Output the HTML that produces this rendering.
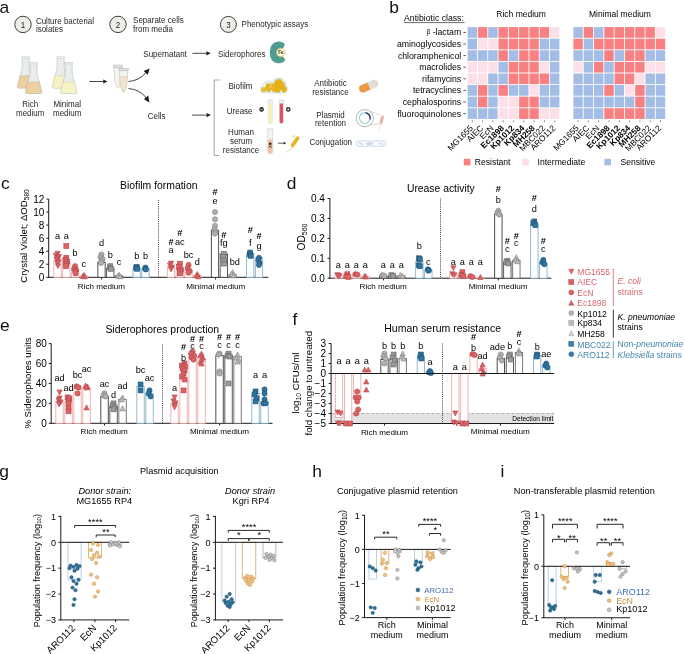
<!DOCTYPE html>
<html><head><meta charset="utf-8"><style>
html,body{margin:0;padding:0;background:#fff;}
svg{display:block;font-family:"Liberation Sans", sans-serif;will-change:transform;}
</style></head><body>
<svg width="685" height="654" viewBox="0 0 685 654">
<rect width="685" height="654" fill="#fff"/>
<text x="-0.50" y="12.70" font-size="17.4" fill="#111">a</text>
<text x="389.20" y="12.50" font-size="17.4" fill="#111">b</text>
<text x="1.00" y="189.40" font-size="17.4" fill="#111">c</text>
<text x="286.80" y="189.10" font-size="17.4" fill="#111">d</text>
<text x="0.10" y="330.50" font-size="17.4" fill="#111">e</text>
<text x="292.50" y="324.70" font-size="17.4" fill="#111">f</text>
<text x="-0.70" y="476.70" font-size="17.4" fill="#111">g</text>
<text x="312.30" y="476.80" font-size="17.4" fill="#111">h</text>
<text x="500.40" y="476.90" font-size="17.4" fill="#111">i</text>
<rect x="467.60" y="27.10" width="9.40" height="10.69" fill="#a4bde6" stroke="none" stroke-width="1"/>
<rect x="477.90" y="27.10" width="9.40" height="10.69" fill="#f98080" stroke="none" stroke-width="1"/>
<rect x="488.20" y="27.10" width="9.40" height="10.69" fill="#a4bde6" stroke="none" stroke-width="1"/>
<rect x="498.50" y="27.10" width="9.40" height="10.69" fill="#f98080" stroke="none" stroke-width="1"/>
<rect x="508.80" y="27.10" width="9.40" height="10.69" fill="#f98080" stroke="none" stroke-width="1"/>
<rect x="519.10" y="27.10" width="9.40" height="10.69" fill="#f98080" stroke="none" stroke-width="1"/>
<rect x="529.40" y="27.10" width="9.40" height="10.69" fill="#f98080" stroke="none" stroke-width="1"/>
<rect x="539.70" y="27.10" width="9.40" height="10.69" fill="#f98080" stroke="none" stroke-width="1"/>
<rect x="550.00" y="27.10" width="9.40" height="10.69" fill="#fde0e7" stroke="none" stroke-width="1"/>
<rect x="467.60" y="38.69" width="9.40" height="10.69" fill="#a4bde6" stroke="none" stroke-width="1"/>
<rect x="477.90" y="38.69" width="9.40" height="10.69" fill="#fde0e7" stroke="none" stroke-width="1"/>
<rect x="488.20" y="38.69" width="9.40" height="10.69" fill="#fde0e7" stroke="none" stroke-width="1"/>
<rect x="498.50" y="38.69" width="9.40" height="10.69" fill="#f98080" stroke="none" stroke-width="1"/>
<rect x="508.80" y="38.69" width="9.40" height="10.69" fill="#f98080" stroke="none" stroke-width="1"/>
<rect x="519.10" y="38.69" width="9.40" height="10.69" fill="#f98080" stroke="none" stroke-width="1"/>
<rect x="529.40" y="38.69" width="9.40" height="10.69" fill="#f98080" stroke="none" stroke-width="1"/>
<rect x="539.70" y="38.69" width="9.40" height="10.69" fill="#a4bde6" stroke="none" stroke-width="1"/>
<rect x="550.00" y="38.69" width="9.40" height="10.69" fill="#a4bde6" stroke="none" stroke-width="1"/>
<rect x="467.60" y="50.28" width="9.40" height="10.69" fill="#a4bde6" stroke="none" stroke-width="1"/>
<rect x="477.90" y="50.28" width="9.40" height="10.69" fill="#a4bde6" stroke="none" stroke-width="1"/>
<rect x="488.20" y="50.28" width="9.40" height="10.69" fill="#a4bde6" stroke="none" stroke-width="1"/>
<rect x="498.50" y="50.28" width="9.40" height="10.69" fill="#f98080" stroke="none" stroke-width="1"/>
<rect x="508.80" y="50.28" width="9.40" height="10.69" fill="#a4bde6" stroke="none" stroke-width="1"/>
<rect x="519.10" y="50.28" width="9.40" height="10.69" fill="#f98080" stroke="none" stroke-width="1"/>
<rect x="529.40" y="50.28" width="9.40" height="10.69" fill="#f98080" stroke="none" stroke-width="1"/>
<rect x="539.70" y="50.28" width="9.40" height="10.69" fill="#a4bde6" stroke="none" stroke-width="1"/>
<rect x="550.00" y="50.28" width="9.40" height="10.69" fill="#a4bde6" stroke="none" stroke-width="1"/>
<rect x="467.60" y="61.87" width="9.40" height="10.69" fill="#fde0e7" stroke="none" stroke-width="1"/>
<rect x="477.90" y="61.87" width="9.40" height="10.69" fill="#fde0e7" stroke="none" stroke-width="1"/>
<rect x="488.20" y="61.87" width="9.40" height="10.69" fill="#fde0e7" stroke="none" stroke-width="1"/>
<rect x="498.50" y="61.87" width="9.40" height="10.69" fill="#a4bde6" stroke="none" stroke-width="1"/>
<rect x="508.80" y="61.87" width="9.40" height="10.69" fill="#f98080" stroke="none" stroke-width="1"/>
<rect x="519.10" y="61.87" width="9.40" height="10.69" fill="#f98080" stroke="none" stroke-width="1"/>
<rect x="529.40" y="61.87" width="9.40" height="10.69" fill="#f98080" stroke="none" stroke-width="1"/>
<rect x="539.70" y="61.87" width="9.40" height="10.69" fill="#fde0e7" stroke="none" stroke-width="1"/>
<rect x="550.00" y="61.87" width="9.40" height="10.69" fill="#a4bde6" stroke="none" stroke-width="1"/>
<rect x="467.60" y="73.46" width="9.40" height="10.69" fill="#fde0e7" stroke="none" stroke-width="1"/>
<rect x="477.90" y="73.46" width="9.40" height="10.69" fill="#fde0e7" stroke="none" stroke-width="1"/>
<rect x="488.20" y="73.46" width="9.40" height="10.69" fill="#a4bde6" stroke="none" stroke-width="1"/>
<rect x="498.50" y="73.46" width="9.40" height="10.69" fill="#a4bde6" stroke="none" stroke-width="1"/>
<rect x="508.80" y="73.46" width="9.40" height="10.69" fill="#f98080" stroke="none" stroke-width="1"/>
<rect x="519.10" y="73.46" width="9.40" height="10.69" fill="#f98080" stroke="none" stroke-width="1"/>
<rect x="529.40" y="73.46" width="9.40" height="10.69" fill="#f98080" stroke="none" stroke-width="1"/>
<rect x="539.70" y="73.46" width="9.40" height="10.69" fill="#f98080" stroke="none" stroke-width="1"/>
<rect x="550.00" y="73.46" width="9.40" height="10.69" fill="#a4bde6" stroke="none" stroke-width="1"/>
<rect x="467.60" y="85.05" width="9.40" height="10.69" fill="#a4bde6" stroke="none" stroke-width="1"/>
<rect x="477.90" y="85.05" width="9.40" height="10.69" fill="#f98080" stroke="none" stroke-width="1"/>
<rect x="488.20" y="85.05" width="9.40" height="10.69" fill="#a4bde6" stroke="none" stroke-width="1"/>
<rect x="498.50" y="85.05" width="9.40" height="10.69" fill="#f98080" stroke="none" stroke-width="1"/>
<rect x="508.80" y="85.05" width="9.40" height="10.69" fill="#a4bde6" stroke="none" stroke-width="1"/>
<rect x="519.10" y="85.05" width="9.40" height="10.69" fill="#a4bde6" stroke="none" stroke-width="1"/>
<rect x="529.40" y="85.05" width="9.40" height="10.69" fill="#fde0e7" stroke="none" stroke-width="1"/>
<rect x="539.70" y="85.05" width="9.40" height="10.69" fill="#a4bde6" stroke="none" stroke-width="1"/>
<rect x="550.00" y="85.05" width="9.40" height="10.69" fill="#a4bde6" stroke="none" stroke-width="1"/>
<rect x="467.60" y="96.64" width="9.40" height="10.69" fill="#a4bde6" stroke="none" stroke-width="1"/>
<rect x="477.90" y="96.64" width="9.40" height="10.69" fill="#f98080" stroke="none" stroke-width="1"/>
<rect x="488.20" y="96.64" width="9.40" height="10.69" fill="#a4bde6" stroke="none" stroke-width="1"/>
<rect x="498.50" y="96.64" width="9.40" height="10.69" fill="#fde0e7" stroke="none" stroke-width="1"/>
<rect x="508.80" y="96.64" width="9.40" height="10.69" fill="#fde0e7" stroke="none" stroke-width="1"/>
<rect x="519.10" y="96.64" width="9.40" height="10.69" fill="#f98080" stroke="none" stroke-width="1"/>
<rect x="529.40" y="96.64" width="9.40" height="10.69" fill="#f98080" stroke="none" stroke-width="1"/>
<rect x="539.70" y="96.64" width="9.40" height="10.69" fill="#a4bde6" stroke="none" stroke-width="1"/>
<rect x="550.00" y="96.64" width="9.40" height="10.69" fill="#a4bde6" stroke="none" stroke-width="1"/>
<rect x="467.60" y="108.23" width="9.40" height="10.69" fill="#a4bde6" stroke="none" stroke-width="1"/>
<rect x="477.90" y="108.23" width="9.40" height="10.69" fill="#a4bde6" stroke="none" stroke-width="1"/>
<rect x="488.20" y="108.23" width="9.40" height="10.69" fill="#a4bde6" stroke="none" stroke-width="1"/>
<rect x="498.50" y="108.23" width="9.40" height="10.69" fill="#fde0e7" stroke="none" stroke-width="1"/>
<rect x="508.80" y="108.23" width="9.40" height="10.69" fill="#fde0e7" stroke="none" stroke-width="1"/>
<rect x="519.10" y="108.23" width="9.40" height="10.69" fill="#f98080" stroke="none" stroke-width="1"/>
<rect x="529.40" y="108.23" width="9.40" height="10.69" fill="#f98080" stroke="none" stroke-width="1"/>
<rect x="539.70" y="108.23" width="9.40" height="10.69" fill="#fde0e7" stroke="none" stroke-width="1"/>
<rect x="550.00" y="108.23" width="9.40" height="10.69" fill="#fde0e7" stroke="none" stroke-width="1"/>
<text x="521.10" y="16.50" font-size="8.5" text-anchor="middle">Rich medium</text>
<line x1="472.30" y1="120.30" x2="472.30" y2="122.30" stroke="#444" stroke-width="0.6"/>
<text x="473.60" y="128.60" font-size="8.4" text-anchor="end" transform="rotate(-45 473.60 128.60)">MG1655</text>
<line x1="482.60" y1="120.30" x2="482.60" y2="122.30" stroke="#444" stroke-width="0.6"/>
<text x="483.90" y="128.60" font-size="8.4" text-anchor="end" transform="rotate(-45 483.90 128.60)">AIEC</text>
<line x1="492.90" y1="120.30" x2="492.90" y2="122.30" stroke="#444" stroke-width="0.6"/>
<text x="494.20" y="128.60" font-size="8.4" text-anchor="end" transform="rotate(-45 494.20 128.60)">EcN</text>
<line x1="503.20" y1="120.30" x2="503.20" y2="122.30" stroke="#444" stroke-width="0.6"/>
<text x="504.50" y="128.60" font-size="8.4" text-anchor="end" font-weight="bold" transform="rotate(-45 504.50 128.60)">Ec1898</text>
<line x1="513.50" y1="120.30" x2="513.50" y2="122.30" stroke="#444" stroke-width="0.6"/>
<text x="514.80" y="128.60" font-size="8.4" text-anchor="end" font-weight="bold" transform="rotate(-45 514.80 128.60)">Kp1012</text>
<line x1="523.80" y1="120.30" x2="523.80" y2="122.30" stroke="#444" stroke-width="0.6"/>
<text x="525.10" y="128.60" font-size="8.4" text-anchor="end" font-weight="bold" transform="rotate(-45 525.10 128.60)">Kp834</text>
<line x1="534.10" y1="120.30" x2="534.10" y2="122.30" stroke="#444" stroke-width="0.6"/>
<text x="535.40" y="128.60" font-size="8.4" text-anchor="end" font-weight="bold" transform="rotate(-45 535.40 128.60)">MH258</text>
<line x1="544.40" y1="120.30" x2="544.40" y2="122.30" stroke="#444" stroke-width="0.6"/>
<text x="545.70" y="128.60" font-size="8.4" text-anchor="end" transform="rotate(-45 545.70 128.60)">MBC022</text>
<line x1="554.70" y1="120.30" x2="554.70" y2="122.30" stroke="#444" stroke-width="0.6"/>
<text x="556.00" y="128.60" font-size="8.4" text-anchor="end" transform="rotate(-45 556.00 128.60)">ARO112</text>
<rect x="573.40" y="27.10" width="9.40" height="10.69" fill="#a4bde6" stroke="none" stroke-width="1"/>
<rect x="583.70" y="27.10" width="9.40" height="10.69" fill="#f98080" stroke="none" stroke-width="1"/>
<rect x="594.00" y="27.10" width="9.40" height="10.69" fill="#a4bde6" stroke="none" stroke-width="1"/>
<rect x="604.30" y="27.10" width="9.40" height="10.69" fill="#f98080" stroke="none" stroke-width="1"/>
<rect x="614.60" y="27.10" width="9.40" height="10.69" fill="#f98080" stroke="none" stroke-width="1"/>
<rect x="624.90" y="27.10" width="9.40" height="10.69" fill="#f98080" stroke="none" stroke-width="1"/>
<rect x="635.20" y="27.10" width="9.40" height="10.69" fill="#f98080" stroke="none" stroke-width="1"/>
<rect x="645.50" y="27.10" width="9.40" height="10.69" fill="#f98080" stroke="none" stroke-width="1"/>
<rect x="655.80" y="27.10" width="9.40" height="10.69" fill="#fde0e7" stroke="none" stroke-width="1"/>
<rect x="573.40" y="38.69" width="9.40" height="10.69" fill="#f98080" stroke="none" stroke-width="1"/>
<rect x="583.70" y="38.69" width="9.40" height="10.69" fill="#a4bde6" stroke="none" stroke-width="1"/>
<rect x="594.00" y="38.69" width="9.40" height="10.69" fill="#f98080" stroke="none" stroke-width="1"/>
<rect x="604.30" y="38.69" width="9.40" height="10.69" fill="#f98080" stroke="none" stroke-width="1"/>
<rect x="614.60" y="38.69" width="9.40" height="10.69" fill="#f98080" stroke="none" stroke-width="1"/>
<rect x="624.90" y="38.69" width="9.40" height="10.69" fill="#f98080" stroke="none" stroke-width="1"/>
<rect x="635.20" y="38.69" width="9.40" height="10.69" fill="#f98080" stroke="none" stroke-width="1"/>
<rect x="645.50" y="38.69" width="9.40" height="10.69" fill="#f98080" stroke="none" stroke-width="1"/>
<rect x="655.80" y="38.69" width="9.40" height="10.69" fill="#f98080" stroke="none" stroke-width="1"/>
<rect x="573.40" y="50.28" width="9.40" height="10.69" fill="#a4bde6" stroke="none" stroke-width="1"/>
<rect x="583.70" y="50.28" width="9.40" height="10.69" fill="#a4bde6" stroke="none" stroke-width="1"/>
<rect x="594.00" y="50.28" width="9.40" height="10.69" fill="#a4bde6" stroke="none" stroke-width="1"/>
<rect x="604.30" y="50.28" width="9.40" height="10.69" fill="#f98080" stroke="none" stroke-width="1"/>
<rect x="614.60" y="50.28" width="9.40" height="10.69" fill="#a4bde6" stroke="none" stroke-width="1"/>
<rect x="624.90" y="50.28" width="9.40" height="10.69" fill="#f98080" stroke="none" stroke-width="1"/>
<rect x="635.20" y="50.28" width="9.40" height="10.69" fill="#f98080" stroke="none" stroke-width="1"/>
<rect x="645.50" y="50.28" width="9.40" height="10.69" fill="#a4bde6" stroke="none" stroke-width="1"/>
<rect x="655.80" y="50.28" width="9.40" height="10.69" fill="#a4bde6" stroke="none" stroke-width="1"/>
<rect x="573.40" y="61.87" width="9.40" height="10.69" fill="#fde0e7" stroke="none" stroke-width="1"/>
<rect x="583.70" y="61.87" width="9.40" height="10.69" fill="#a4bde6" stroke="none" stroke-width="1"/>
<rect x="594.00" y="61.87" width="9.40" height="10.69" fill="#f98080" stroke="none" stroke-width="1"/>
<rect x="604.30" y="61.87" width="9.40" height="10.69" fill="#a4bde6" stroke="none" stroke-width="1"/>
<rect x="614.60" y="61.87" width="9.40" height="10.69" fill="#f98080" stroke="none" stroke-width="1"/>
<rect x="624.90" y="61.87" width="9.40" height="10.69" fill="#f98080" stroke="none" stroke-width="1"/>
<rect x="635.20" y="61.87" width="9.40" height="10.69" fill="#f98080" stroke="none" stroke-width="1"/>
<rect x="645.50" y="61.87" width="9.40" height="10.69" fill="#fde0e7" stroke="none" stroke-width="1"/>
<rect x="655.80" y="61.87" width="9.40" height="10.69" fill="#fde0e7" stroke="none" stroke-width="1"/>
<rect x="573.40" y="73.46" width="9.40" height="10.69" fill="#a4bde6" stroke="none" stroke-width="1"/>
<rect x="583.70" y="73.46" width="9.40" height="10.69" fill="#a4bde6" stroke="none" stroke-width="1"/>
<rect x="594.00" y="73.46" width="9.40" height="10.69" fill="#a4bde6" stroke="none" stroke-width="1"/>
<rect x="604.30" y="73.46" width="9.40" height="10.69" fill="#a4bde6" stroke="none" stroke-width="1"/>
<rect x="614.60" y="73.46" width="9.40" height="10.69" fill="#f98080" stroke="none" stroke-width="1"/>
<rect x="624.90" y="73.46" width="9.40" height="10.69" fill="#f98080" stroke="none" stroke-width="1"/>
<rect x="635.20" y="73.46" width="9.40" height="10.69" fill="#fde0e7" stroke="none" stroke-width="1"/>
<rect x="645.50" y="73.46" width="9.40" height="10.69" fill="#a4bde6" stroke="none" stroke-width="1"/>
<rect x="655.80" y="73.46" width="9.40" height="10.69" fill="#a4bde6" stroke="none" stroke-width="1"/>
<rect x="573.40" y="85.05" width="9.40" height="10.69" fill="#a4bde6" stroke="none" stroke-width="1"/>
<rect x="583.70" y="85.05" width="9.40" height="10.69" fill="#a4bde6" stroke="none" stroke-width="1"/>
<rect x="594.00" y="85.05" width="9.40" height="10.69" fill="#a4bde6" stroke="none" stroke-width="1"/>
<rect x="604.30" y="85.05" width="9.40" height="10.69" fill="#f98080" stroke="none" stroke-width="1"/>
<rect x="614.60" y="85.05" width="9.40" height="10.69" fill="#a4bde6" stroke="none" stroke-width="1"/>
<rect x="624.90" y="85.05" width="9.40" height="10.69" fill="#fde0e7" stroke="none" stroke-width="1"/>
<rect x="635.20" y="85.05" width="9.40" height="10.69" fill="#f98080" stroke="none" stroke-width="1"/>
<rect x="645.50" y="85.05" width="9.40" height="10.69" fill="#a4bde6" stroke="none" stroke-width="1"/>
<rect x="655.80" y="85.05" width="9.40" height="10.69" fill="#a4bde6" stroke="none" stroke-width="1"/>
<rect x="573.40" y="96.64" width="9.40" height="10.69" fill="#a4bde6" stroke="none" stroke-width="1"/>
<rect x="583.70" y="96.64" width="9.40" height="10.69" fill="#a4bde6" stroke="none" stroke-width="1"/>
<rect x="594.00" y="96.64" width="9.40" height="10.69" fill="#a4bde6" stroke="none" stroke-width="1"/>
<rect x="604.30" y="96.64" width="9.40" height="10.69" fill="#a4bde6" stroke="none" stroke-width="1"/>
<rect x="614.60" y="96.64" width="9.40" height="10.69" fill="#a4bde6" stroke="none" stroke-width="1"/>
<rect x="624.90" y="96.64" width="9.40" height="10.69" fill="#a4bde6" stroke="none" stroke-width="1"/>
<rect x="635.20" y="96.64" width="9.40" height="10.69" fill="#f98080" stroke="none" stroke-width="1"/>
<rect x="645.50" y="96.64" width="9.40" height="10.69" fill="#a4bde6" stroke="none" stroke-width="1"/>
<rect x="655.80" y="96.64" width="9.40" height="10.69" fill="#a4bde6" stroke="none" stroke-width="1"/>
<rect x="573.40" y="108.23" width="9.40" height="10.69" fill="#a4bde6" stroke="none" stroke-width="1"/>
<rect x="583.70" y="108.23" width="9.40" height="10.69" fill="#a4bde6" stroke="none" stroke-width="1"/>
<rect x="594.00" y="108.23" width="9.40" height="10.69" fill="#a4bde6" stroke="none" stroke-width="1"/>
<rect x="604.30" y="108.23" width="9.40" height="10.69" fill="#f98080" stroke="none" stroke-width="1"/>
<rect x="614.60" y="108.23" width="9.40" height="10.69" fill="#f98080" stroke="none" stroke-width="1"/>
<rect x="624.90" y="108.23" width="9.40" height="10.69" fill="#f98080" stroke="none" stroke-width="1"/>
<rect x="635.20" y="108.23" width="9.40" height="10.69" fill="#f98080" stroke="none" stroke-width="1"/>
<rect x="645.50" y="108.23" width="9.40" height="10.69" fill="#a4bde6" stroke="none" stroke-width="1"/>
<rect x="655.80" y="108.23" width="9.40" height="10.69" fill="#a4bde6" stroke="none" stroke-width="1"/>
<text x="619.90" y="16.50" font-size="8.5" text-anchor="middle">Minimal medium</text>
<line x1="578.10" y1="120.30" x2="578.10" y2="122.30" stroke="#444" stroke-width="0.6"/>
<text x="579.40" y="128.60" font-size="8.4" text-anchor="end" transform="rotate(-45 579.40 128.60)">MG1655</text>
<line x1="588.40" y1="120.30" x2="588.40" y2="122.30" stroke="#444" stroke-width="0.6"/>
<text x="589.70" y="128.60" font-size="8.4" text-anchor="end" transform="rotate(-45 589.70 128.60)">AIEC</text>
<line x1="598.70" y1="120.30" x2="598.70" y2="122.30" stroke="#444" stroke-width="0.6"/>
<text x="600.00" y="128.60" font-size="8.4" text-anchor="end" transform="rotate(-45 600.00 128.60)">EcN</text>
<line x1="609.00" y1="120.30" x2="609.00" y2="122.30" stroke="#444" stroke-width="0.6"/>
<text x="610.30" y="128.60" font-size="8.4" text-anchor="end" font-weight="bold" transform="rotate(-45 610.30 128.60)">Ec1898</text>
<line x1="619.30" y1="120.30" x2="619.30" y2="122.30" stroke="#444" stroke-width="0.6"/>
<text x="620.60" y="128.60" font-size="8.4" text-anchor="end" font-weight="bold" transform="rotate(-45 620.60 128.60)">Kp1012</text>
<line x1="629.60" y1="120.30" x2="629.60" y2="122.30" stroke="#444" stroke-width="0.6"/>
<text x="630.90" y="128.60" font-size="8.4" text-anchor="end" font-weight="bold" transform="rotate(-45 630.90 128.60)">Kp834</text>
<line x1="639.90" y1="120.30" x2="639.90" y2="122.30" stroke="#444" stroke-width="0.6"/>
<text x="641.20" y="128.60" font-size="8.4" text-anchor="end" font-weight="bold" transform="rotate(-45 641.20 128.60)">MH258</text>
<line x1="650.20" y1="120.30" x2="650.20" y2="122.30" stroke="#444" stroke-width="0.6"/>
<text x="651.50" y="128.60" font-size="8.4" text-anchor="end" transform="rotate(-45 651.50 128.60)">MBC022</text>
<line x1="660.50" y1="120.30" x2="660.50" y2="122.30" stroke="#444" stroke-width="0.6"/>
<text x="661.80" y="128.60" font-size="8.4" text-anchor="end" transform="rotate(-45 661.80 128.60)">ARO112</text>
<text x="461.20" y="35.45" font-size="8.7" text-anchor="end"><tspan font-size="6.6" dy="-1.3">&#946;</tspan><tspan dy="1.3"> -lactam</tspan></text>
<line x1="463.40" y1="32.45" x2="465.90" y2="32.45" stroke="#333" stroke-width="0.8"/>
<text x="461.20" y="47.03" font-size="8.7" text-anchor="end">aminoglycosides</text>
<line x1="463.40" y1="44.03" x2="465.90" y2="44.03" stroke="#333" stroke-width="0.8"/>
<text x="461.20" y="58.62" font-size="8.7" text-anchor="end">chloramphenicol</text>
<line x1="463.40" y1="55.62" x2="465.90" y2="55.62" stroke="#333" stroke-width="0.8"/>
<text x="461.20" y="70.22" font-size="8.7" text-anchor="end">macrolides</text>
<line x1="463.40" y1="67.22" x2="465.90" y2="67.22" stroke="#333" stroke-width="0.8"/>
<text x="461.20" y="81.81" font-size="8.7" text-anchor="end">rifamycins</text>
<line x1="463.40" y1="78.81" x2="465.90" y2="78.81" stroke="#333" stroke-width="0.8"/>
<text x="461.20" y="93.40" font-size="8.7" text-anchor="end">tetracyclines</text>
<line x1="463.40" y1="90.40" x2="465.90" y2="90.40" stroke="#333" stroke-width="0.8"/>
<text x="461.20" y="104.98" font-size="8.7" text-anchor="end">cephalosporins</text>
<line x1="463.40" y1="101.98" x2="465.90" y2="101.98" stroke="#333" stroke-width="0.8"/>
<text x="461.20" y="116.57" font-size="8.7" text-anchor="end">fluoroquinolones</text>
<line x1="463.40" y1="113.57" x2="465.90" y2="113.57" stroke="#333" stroke-width="0.8"/>
<text x="404.00" y="21.00" font-size="8.7">Antibiotic class:</text>
<line x1="404.00" y1="22.60" x2="464.60" y2="22.60" stroke="#000" stroke-width="0.6"/>
<rect x="463.80" y="158.80" width="6.60" height="6.60" fill="#f98080" stroke="none" stroke-width="1"/>
<text x="474.70" y="164.60" font-size="8.6">Resistant</text>
<rect x="522.20" y="158.80" width="6.60" height="6.60" fill="#fde0e7" stroke="none" stroke-width="1"/>
<text x="537.50" y="164.60" font-size="8.6">Intermediate</text>
<rect x="604.40" y="158.80" width="6.60" height="6.60" fill="#a4bde6" stroke="none" stroke-width="1"/>
<text x="620.50" y="164.60" font-size="8.6">Sensitive</text>
<text x="158.80" y="189.30" font-size="10.4" text-anchor="middle">Biofilm formation</text>
<line x1="48.70" y1="199.10" x2="48.70" y2="277.30" stroke="#1a1a1a" stroke-width="1.0"/>
<line x1="46.30" y1="277.30" x2="48.70" y2="277.30" stroke="#1a1a1a" stroke-width="1.0"/>
<text x="44.40" y="280.85" font-size="10.0" text-anchor="end">0</text>
<line x1="46.30" y1="264.26" x2="48.70" y2="264.26" stroke="#1a1a1a" stroke-width="1.0"/>
<text x="44.40" y="267.81" font-size="10.0" text-anchor="end">2</text>
<line x1="46.30" y1="251.22" x2="48.70" y2="251.22" stroke="#1a1a1a" stroke-width="1.0"/>
<text x="44.40" y="254.77" font-size="10.0" text-anchor="end">4</text>
<line x1="46.30" y1="238.18" x2="48.70" y2="238.18" stroke="#1a1a1a" stroke-width="1.0"/>
<text x="44.40" y="241.73" font-size="10.0" text-anchor="end">6</text>
<line x1="46.30" y1="225.14" x2="48.70" y2="225.14" stroke="#1a1a1a" stroke-width="1.0"/>
<text x="44.40" y="228.69" font-size="10.0" text-anchor="end">8</text>
<line x1="46.30" y1="212.10" x2="48.70" y2="212.10" stroke="#1a1a1a" stroke-width="1.0"/>
<text x="44.40" y="215.65" font-size="10.0" text-anchor="end">10</text>
<line x1="46.30" y1="199.06" x2="48.70" y2="199.06" stroke="#1a1a1a" stroke-width="1.0"/>
<text x="44.40" y="202.61" font-size="10.0" text-anchor="end">12</text>
<line x1="48.20" y1="277.30" x2="268.30" y2="277.30" stroke="#1a1a1a" stroke-width="1.0"/>
<line x1="101.60" y1="277.30" x2="101.60" y2="279.50" stroke="#1a1a1a" stroke-width="1.0"/>
<line x1="215.60" y1="277.30" x2="215.60" y2="279.50" stroke="#1a1a1a" stroke-width="1.0"/>
<line x1="158.50" y1="200.00" x2="158.50" y2="277.00" stroke="#444" stroke-width="1.0" stroke-dasharray="1,1.1"/>
<text x="101.40" y="288.90" font-size="8.1" text-anchor="middle">Rich medium</text>
<text x="215.80" y="288.90" font-size="8.1" text-anchor="middle">Minimal medium</text>
<text x="27.00" y="236.00" font-size="9.6" text-anchor="middle" transform="rotate(-90 27.00 236.00)">Crystal Violet; &#916;OD<tspan font-size="6.6" dy="2">580</tspan></text>
<rect x="53.85" y="260.35" width="7.30" height="16.95" fill="#fff" stroke="#eeaaaa" stroke-width="0.9"/>
<rect x="62.65" y="262.96" width="7.30" height="14.34" fill="#fff" stroke="#eeaaaa" stroke-width="0.9"/>
<rect x="71.45" y="270.13" width="7.30" height="7.17" fill="#fff" stroke="#eeaaaa" stroke-width="0.9"/>
<rect x="80.25" y="276.00" width="7.30" height="1.30" fill="#fff" stroke="#eeaaaa" stroke-width="0.9"/>
<rect x="97.85" y="262.30" width="7.30" height="15.00" fill="#fff" stroke="#3a3a3a" stroke-width="0.9"/>
<rect x="106.65" y="268.17" width="7.30" height="9.13" fill="#fff" stroke="#4a4a4a" stroke-width="0.9"/>
<rect x="115.45" y="275.67" width="7.30" height="1.63" fill="#fff" stroke="#6a6a6a" stroke-width="0.9"/>
<rect x="133.05" y="268.17" width="7.30" height="9.13" fill="#fff" stroke="#86b2cc" stroke-width="0.9"/>
<rect x="141.85" y="268.82" width="7.30" height="8.48" fill="#fff" stroke="#86b2cc" stroke-width="0.9"/>
<path d="M54.85,251.31L60.15,251.31L57.50,256.35Z" fill="#dc6264" stroke="#ad4245" stroke-width="0.55"/>
<path d="M53.35,253.26L58.65,253.26L56.00,258.30Z" fill="#dc6264" stroke="#ad4245" stroke-width="0.55"/>
<path d="M56.35,254.57L61.65,254.57L59.00,259.61Z" fill="#dc6264" stroke="#ad4245" stroke-width="0.55"/>
<path d="M54.85,255.87L60.15,255.87L57.50,260.91Z" fill="#dc6264" stroke="#ad4245" stroke-width="0.55"/>
<path d="M53.85,257.18L59.15,257.18L56.50,262.22Z" fill="#dc6264" stroke="#ad4245" stroke-width="0.55"/>
<path d="M55.85,259.13L61.15,259.13L58.50,264.17Z" fill="#dc6264" stroke="#ad4245" stroke-width="0.55"/>
<path d="M54.85,261.09L60.15,261.09L57.50,266.13Z" fill="#dc6264" stroke="#ad4245" stroke-width="0.55"/>
<path d="M55.35,263.70L60.65,263.70L58.00,268.74Z" fill="#dc6264" stroke="#ad4245" stroke-width="0.55"/>
<rect x="63.83" y="243.53" width="4.94" height="4.94" fill="#dc6264" stroke="#ad4245" stroke-width="0.55"/>
<rect x="63.83" y="255.27" width="4.94" height="4.94" fill="#dc6264" stroke="#ad4245" stroke-width="0.55"/>
<rect x="62.83" y="257.23" width="4.94" height="4.94" fill="#dc6264" stroke="#ad4245" stroke-width="0.55"/>
<rect x="64.83" y="259.18" width="4.94" height="4.94" fill="#dc6264" stroke="#ad4245" stroke-width="0.55"/>
<rect x="63.83" y="261.79" width="4.94" height="4.94" fill="#dc6264" stroke="#ad4245" stroke-width="0.55"/>
<rect x="63.33" y="263.75" width="4.94" height="4.94" fill="#dc6264" stroke="#ad4245" stroke-width="0.55"/>
<circle cx="75.10" cy="266.22" r="2.60" fill="#dc6264" stroke="#ad4245" stroke-width="0.55"/>
<circle cx="74.10" cy="268.82" r="2.60" fill="#dc6264" stroke="#ad4245" stroke-width="0.55"/>
<circle cx="76.10" cy="270.13" r="2.60" fill="#dc6264" stroke="#ad4245" stroke-width="0.55"/>
<circle cx="75.10" cy="271.43" r="2.60" fill="#dc6264" stroke="#ad4245" stroke-width="0.55"/>
<circle cx="75.60" cy="273.39" r="2.60" fill="#dc6264" stroke="#ad4245" stroke-width="0.55"/>
<path d="M81.25,277.54L86.55,277.54L83.90,272.50Z" fill="#dc6264" stroke="#ad4245" stroke-width="0.55"/>
<path d="M80.25,278.52L85.55,278.52L82.90,273.48Z" fill="#dc6264" stroke="#ad4245" stroke-width="0.55"/>
<path d="M82.25,278.84L87.55,278.84L84.90,273.80Z" fill="#dc6264" stroke="#ad4245" stroke-width="0.55"/>
<circle cx="101.50" cy="254.48" r="2.60" fill="#b0b0b0" stroke="#777777" stroke-width="0.55"/>
<circle cx="100.50" cy="257.09" r="2.60" fill="#b0b0b0" stroke="#777777" stroke-width="0.55"/>
<circle cx="102.50" cy="259.04" r="2.60" fill="#b0b0b0" stroke="#777777" stroke-width="0.55"/>
<circle cx="101.50" cy="261.00" r="2.60" fill="#b0b0b0" stroke="#777777" stroke-width="0.55"/>
<circle cx="101.00" cy="262.96" r="2.60" fill="#b0b0b0" stroke="#777777" stroke-width="0.55"/>
<rect x="107.83" y="263.75" width="4.94" height="4.94" fill="#9a9a9a" stroke="#5e5e5e" stroke-width="0.55"/>
<rect x="107.33" y="265.05" width="4.94" height="4.94" fill="#9a9a9a" stroke="#5e5e5e" stroke-width="0.55"/>
<rect x="108.33" y="266.35" width="4.94" height="4.94" fill="#9a9a9a" stroke="#5e5e5e" stroke-width="0.55"/>
<path d="M116.45,277.21L121.75,277.21L119.10,272.17Z" fill="#bdbdbd" stroke="#777777" stroke-width="0.55"/>
<path d="M115.45,278.19L120.75,278.19L118.10,273.15Z" fill="#bdbdbd" stroke="#777777" stroke-width="0.55"/>
<path d="M117.45,278.84L122.75,278.84L120.10,273.80Z" fill="#bdbdbd" stroke="#777777" stroke-width="0.55"/>
<rect x="134.23" y="264.40" width="4.94" height="4.94" fill="#2f74a0" stroke="#1c4f70" stroke-width="0.55"/>
<rect x="133.73" y="265.70" width="4.94" height="4.94" fill="#2f74a0" stroke="#1c4f70" stroke-width="0.55"/>
<rect x="134.73" y="266.35" width="4.94" height="4.94" fill="#2f74a0" stroke="#1c4f70" stroke-width="0.55"/>
<circle cx="145.50" cy="267.52" r="2.60" fill="#2f74a0" stroke="#1c4f70" stroke-width="0.55"/>
<circle cx="145.00" cy="268.82" r="2.60" fill="#2f74a0" stroke="#1c4f70" stroke-width="0.55"/>
<circle cx="146.00" cy="269.48" r="2.60" fill="#2f74a0" stroke="#1c4f70" stroke-width="0.55"/>
<rect x="167.35" y="266.87" width="7.30" height="10.43" fill="#fff" stroke="#eeaaaa" stroke-width="0.9"/>
<rect x="176.15" y="269.48" width="7.30" height="7.82" fill="#fff" stroke="#eeaaaa" stroke-width="0.9"/>
<rect x="184.95" y="270.13" width="7.30" height="7.17" fill="#fff" stroke="#eeaaaa" stroke-width="0.9"/>
<rect x="193.75" y="275.34" width="7.30" height="1.96" fill="#fff" stroke="#eeaaaa" stroke-width="0.9"/>
<rect x="211.35" y="230.36" width="7.30" height="46.94" fill="#fff" stroke="#3a3a3a" stroke-width="0.9"/>
<rect x="220.15" y="253.83" width="7.30" height="23.47" fill="#fff" stroke="#4a4a4a" stroke-width="0.9"/>
<rect x="228.95" y="274.69" width="7.30" height="2.61" fill="#fff" stroke="#6a6a6a" stroke-width="0.9"/>
<rect x="246.55" y="253.83" width="7.30" height="23.47" fill="#fff" stroke="#86b2cc" stroke-width="0.9"/>
<rect x="255.35" y="257.74" width="7.30" height="19.56" fill="#fff" stroke="#86b2cc" stroke-width="0.9"/>
<path d="M168.35,261.09L173.65,261.09L171.00,266.13Z" fill="#dc6264" stroke="#ad4245" stroke-width="0.55"/>
<path d="M167.35,263.04L172.65,263.04L170.00,268.08Z" fill="#dc6264" stroke="#ad4245" stroke-width="0.55"/>
<path d="M169.35,265.00L174.65,265.00L172.00,270.04Z" fill="#dc6264" stroke="#ad4245" stroke-width="0.55"/>
<path d="M168.35,266.96L173.65,266.96L171.00,272.00Z" fill="#dc6264" stroke="#ad4245" stroke-width="0.55"/>
<rect x="177.33" y="261.14" width="4.94" height="4.94" fill="#dc6264" stroke="#ad4245" stroke-width="0.55"/>
<rect x="176.33" y="264.40" width="4.94" height="4.94" fill="#dc6264" stroke="#ad4245" stroke-width="0.55"/>
<rect x="178.33" y="267.01" width="4.94" height="4.94" fill="#dc6264" stroke="#ad4245" stroke-width="0.55"/>
<rect x="177.33" y="268.96" width="4.94" height="4.94" fill="#dc6264" stroke="#ad4245" stroke-width="0.55"/>
<rect x="177.33" y="270.92" width="4.94" height="4.94" fill="#dc6264" stroke="#ad4245" stroke-width="0.55"/>
<circle cx="188.60" cy="264.91" r="2.60" fill="#dc6264" stroke="#ad4245" stroke-width="0.55"/>
<circle cx="187.60" cy="268.17" r="2.60" fill="#dc6264" stroke="#ad4245" stroke-width="0.55"/>
<circle cx="189.60" cy="270.78" r="2.60" fill="#dc6264" stroke="#ad4245" stroke-width="0.55"/>
<circle cx="188.60" cy="272.74" r="2.60" fill="#dc6264" stroke="#ad4245" stroke-width="0.55"/>
<path d="M194.75,276.56L200.05,276.56L197.40,271.52Z" fill="#dc6264" stroke="#ad4245" stroke-width="0.55"/>
<path d="M193.75,277.86L199.05,277.86L196.40,272.82Z" fill="#dc6264" stroke="#ad4245" stroke-width="0.55"/>
<path d="M195.75,278.84L201.05,278.84L198.40,273.80Z" fill="#dc6264" stroke="#ad4245" stroke-width="0.55"/>
<circle cx="215.00" cy="212.10" r="2.60" fill="#b0b0b0" stroke="#777777" stroke-width="0.55"/>
<circle cx="215.00" cy="219.27" r="2.60" fill="#b0b0b0" stroke="#777777" stroke-width="0.55"/>
<circle cx="215.00" cy="225.79" r="2.60" fill="#b0b0b0" stroke="#777777" stroke-width="0.55"/>
<circle cx="214.50" cy="229.05" r="2.60" fill="#b0b0b0" stroke="#777777" stroke-width="0.55"/>
<circle cx="215.50" cy="231.66" r="2.60" fill="#b0b0b0" stroke="#777777" stroke-width="0.55"/>
<circle cx="215.00" cy="233.62" r="2.60" fill="#b0b0b0" stroke="#777777" stroke-width="0.55"/>
<rect x="221.33" y="251.36" width="4.94" height="4.94" fill="#9a9a9a" stroke="#5e5e5e" stroke-width="0.55"/>
<rect x="220.83" y="254.62" width="4.94" height="4.94" fill="#9a9a9a" stroke="#5e5e5e" stroke-width="0.55"/>
<rect x="221.83" y="257.88" width="4.94" height="4.94" fill="#9a9a9a" stroke="#5e5e5e" stroke-width="0.55"/>
<rect x="221.33" y="261.14" width="4.94" height="4.94" fill="#9a9a9a" stroke="#5e5e5e" stroke-width="0.55"/>
<path d="M229.95,274.60L235.25,274.60L232.60,269.56Z" fill="#bdbdbd" stroke="#777777" stroke-width="0.55"/>
<path d="M228.95,276.56L234.25,276.56L231.60,271.52Z" fill="#bdbdbd" stroke="#777777" stroke-width="0.55"/>
<path d="M230.95,277.86L236.25,277.86L233.60,272.82Z" fill="#bdbdbd" stroke="#777777" stroke-width="0.55"/>
<rect x="247.73" y="250.05" width="4.94" height="4.94" fill="#2f74a0" stroke="#1c4f70" stroke-width="0.55"/>
<rect x="247.23" y="252.01" width="4.94" height="4.94" fill="#2f74a0" stroke="#1c4f70" stroke-width="0.55"/>
<rect x="248.23" y="253.31" width="4.94" height="4.94" fill="#2f74a0" stroke="#1c4f70" stroke-width="0.55"/>
<circle cx="259.00" cy="257.74" r="2.60" fill="#2f74a0" stroke="#1c4f70" stroke-width="0.55"/>
<circle cx="258.50" cy="260.35" r="2.60" fill="#2f74a0" stroke="#1c4f70" stroke-width="0.55"/>
<circle cx="259.50" cy="262.96" r="2.60" fill="#2f74a0" stroke="#1c4f70" stroke-width="0.55"/>
<circle cx="259.00" cy="264.91" r="2.60" fill="#2f74a0" stroke="#1c4f70" stroke-width="0.55"/>
<text x="57.50" y="239.40" font-size="9.2" text-anchor="middle">a</text>
<text x="66.30" y="239.40" font-size="9.2" text-anchor="middle">a</text>
<text x="75.10" y="255.70" font-size="9.2" text-anchor="middle">b</text>
<text x="83.90" y="267.00" font-size="9.2" text-anchor="middle">c</text>
<text x="101.50" y="246.00" font-size="9.2" text-anchor="middle">d</text>
<text x="110.30" y="257.80" font-size="9.2" text-anchor="middle">b</text>
<text x="119.10" y="265.30" font-size="9.2" text-anchor="middle">c</text>
<text x="136.70" y="259.40" font-size="9.2" text-anchor="middle">b</text>
<text x="145.50" y="259.40" font-size="9.2" text-anchor="middle">b</text>
<text x="171.00" y="253.30" font-size="9.2" text-anchor="middle">a</text>
<text x="171.00" y="245.00" font-size="9.2" text-anchor="middle" font-weight="bold">#</text>
<text x="179.80" y="245.00" font-size="9.2" text-anchor="middle">ac</text>
<text x="179.80" y="236.20" font-size="9.2" text-anchor="middle" font-weight="bold">#</text>
<text x="188.60" y="257.90" font-size="9.2" text-anchor="middle">bc</text>
<text x="197.40" y="264.90" font-size="9.2" text-anchor="middle">d</text>
<text x="215.00" y="203.50" font-size="9.2" text-anchor="middle">e</text>
<text x="215.00" y="195.00" font-size="9.2" text-anchor="middle" font-weight="bold">#</text>
<text x="223.80" y="246.20" font-size="9.2" text-anchor="middle">fg</text>
<text x="223.80" y="238.10" font-size="9.2" text-anchor="middle" font-weight="bold">#</text>
<text x="234.80" y="264.90" font-size="9.2" text-anchor="middle">bd</text>
<text x="250.20" y="246.20" font-size="9.2" text-anchor="middle">f</text>
<text x="250.20" y="233.40" font-size="9.2" text-anchor="middle" font-weight="bold">#</text>
<text x="259.00" y="248.60" font-size="9.2" text-anchor="middle">g</text>
<text x="259.00" y="238.50" font-size="9.2" text-anchor="middle" font-weight="bold">#</text>
<text x="440.85" y="191.70" font-size="10.35" text-anchor="middle">Urease activity</text>
<line x1="329.90" y1="198.30" x2="329.90" y2="278.20" stroke="#1a1a1a" stroke-width="1.0"/>
<line x1="327.50" y1="278.20" x2="329.90" y2="278.20" stroke="#1a1a1a" stroke-width="1.0"/>
<text x="324.90" y="281.75" font-size="10.0" text-anchor="end">0.0</text>
<line x1="327.50" y1="258.27" x2="329.90" y2="258.27" stroke="#1a1a1a" stroke-width="1.0"/>
<text x="324.90" y="261.82" font-size="10.0" text-anchor="end">0.1</text>
<line x1="327.50" y1="238.34" x2="329.90" y2="238.34" stroke="#1a1a1a" stroke-width="1.0"/>
<text x="324.90" y="241.89" font-size="10.0" text-anchor="end">0.2</text>
<line x1="327.50" y1="218.41" x2="329.90" y2="218.41" stroke="#1a1a1a" stroke-width="1.0"/>
<text x="324.90" y="221.96" font-size="10.0" text-anchor="end">0.3</text>
<line x1="327.50" y1="198.48" x2="329.90" y2="198.48" stroke="#1a1a1a" stroke-width="1.0"/>
<text x="324.90" y="202.03" font-size="10.0" text-anchor="end">0.4</text>
<line x1="329.40" y1="278.20" x2="551.40" y2="278.20" stroke="#1a1a1a" stroke-width="1.0"/>
<line x1="383.40" y1="278.20" x2="383.40" y2="280.40" stroke="#1a1a1a" stroke-width="1.0"/>
<line x1="498.30" y1="278.20" x2="498.30" y2="280.40" stroke="#1a1a1a" stroke-width="1.0"/>
<line x1="440.50" y1="198.40" x2="440.50" y2="278.00" stroke="#444" stroke-width="1.0" stroke-dasharray="1,1.1"/>
<text x="383.20" y="289.00" font-size="8.1" text-anchor="middle">Rich medium</text>
<text x="498.10" y="289.00" font-size="8.1" text-anchor="middle">Minimal medium</text>
<text x="304.60" y="237.00" font-size="10.2" text-anchor="middle" transform="rotate(-90 304.60 237.00)">OD<tspan font-size="7.0" dy="2">560</tspan></text>
<rect x="334.65" y="275.81" width="7.40" height="2.39" fill="#fff" stroke="#eeaaaa" stroke-width="0.9"/>
<rect x="343.65" y="275.81" width="7.40" height="2.39" fill="#fff" stroke="#eeaaaa" stroke-width="0.9"/>
<rect x="352.65" y="275.21" width="7.40" height="2.99" fill="#fff" stroke="#eeaaaa" stroke-width="0.9"/>
<rect x="361.65" y="276.21" width="7.40" height="1.99" fill="#fff" stroke="#eeaaaa" stroke-width="0.9"/>
<rect x="379.65" y="275.81" width="7.40" height="2.39" fill="#fff" stroke="#3a3a3a" stroke-width="0.9"/>
<rect x="388.65" y="275.81" width="7.40" height="2.39" fill="#fff" stroke="#4a4a4a" stroke-width="0.9"/>
<rect x="397.65" y="275.81" width="7.40" height="2.39" fill="#fff" stroke="#6a6a6a" stroke-width="0.9"/>
<rect x="415.65" y="261.26" width="7.40" height="16.94" fill="#fff" stroke="#86b2cc" stroke-width="0.9"/>
<rect x="424.65" y="270.23" width="7.40" height="7.97" fill="#fff" stroke="#86b2cc" stroke-width="0.9"/>
<path d="M334.70,272.69L340.00,272.69L337.35,277.73Z" fill="#dc6264" stroke="#ad4245" stroke-width="0.55"/>
<path d="M336.70,273.69L342.00,273.69L339.35,278.73Z" fill="#dc6264" stroke="#ad4245" stroke-width="0.55"/>
<path d="M335.70,273.29L341.00,273.29L338.35,278.33Z" fill="#dc6264" stroke="#ad4245" stroke-width="0.55"/>
<rect x="344.88" y="271.74" width="4.94" height="4.94" fill="#dc6264" stroke="#ad4245" stroke-width="0.55"/>
<rect x="343.88" y="273.74" width="4.94" height="4.94" fill="#dc6264" stroke="#ad4245" stroke-width="0.55"/>
<rect x="345.88" y="274.53" width="4.94" height="4.94" fill="#dc6264" stroke="#ad4245" stroke-width="0.55"/>
<circle cx="355.35" cy="274.21" r="2.60" fill="#dc6264" stroke="#ad4245" stroke-width="0.55"/>
<circle cx="357.35" cy="274.61" r="2.60" fill="#dc6264" stroke="#ad4245" stroke-width="0.55"/>
<path d="M362.20,278.33L367.50,278.33L364.85,273.29Z" fill="#dc6264" stroke="#ad4245" stroke-width="0.55"/>
<path d="M363.20,279.12L368.50,279.12L365.85,274.09Z" fill="#dc6264" stroke="#ad4245" stroke-width="0.55"/>
<circle cx="382.35" cy="275.21" r="2.60" fill="#b0b0b0" stroke="#777777" stroke-width="0.55"/>
<circle cx="384.35" cy="275.81" r="2.60" fill="#b0b0b0" stroke="#777777" stroke-width="0.55"/>
<rect x="388.88" y="272.74" width="4.94" height="4.94" fill="#9a9a9a" stroke="#5e5e5e" stroke-width="0.55"/>
<rect x="390.88" y="273.34" width="4.94" height="4.94" fill="#9a9a9a" stroke="#5e5e5e" stroke-width="0.55"/>
<path d="M397.70,277.53L403.00,277.53L400.35,272.49Z" fill="#bdbdbd" stroke="#777777" stroke-width="0.55"/>
<path d="M399.70,278.33L405.00,278.33L402.35,273.29Z" fill="#bdbdbd" stroke="#777777" stroke-width="0.55"/>
<rect x="416.38" y="255.80" width="4.94" height="4.94" fill="#2f74a0" stroke="#1c4f70" stroke-width="0.55"/>
<rect x="417.38" y="256.80" width="4.94" height="4.94" fill="#2f74a0" stroke="#1c4f70" stroke-width="0.55"/>
<rect x="416.38" y="262.78" width="4.94" height="4.94" fill="#2f74a0" stroke="#1c4f70" stroke-width="0.55"/>
<rect x="417.38" y="263.77" width="4.94" height="4.94" fill="#2f74a0" stroke="#1c4f70" stroke-width="0.55"/>
<circle cx="427.85" cy="269.23" r="2.60" fill="#2f74a0" stroke="#1c4f70" stroke-width="0.55"/>
<circle cx="428.85" cy="270.23" r="2.60" fill="#2f74a0" stroke="#1c4f70" stroke-width="0.55"/>
<circle cx="428.35" cy="270.63" r="2.60" fill="#2f74a0" stroke="#1c4f70" stroke-width="0.55"/>
<rect x="449.65" y="274.21" width="7.40" height="3.99" fill="#fff" stroke="#eeaaaa" stroke-width="0.9"/>
<rect x="458.65" y="275.21" width="7.40" height="2.99" fill="#fff" stroke="#eeaaaa" stroke-width="0.9"/>
<rect x="467.65" y="276.61" width="7.40" height="1.59" fill="#fff" stroke="#eeaaaa" stroke-width="0.9"/>
<rect x="476.65" y="277.20" width="7.40" height="1.00" fill="#fff" stroke="#eeaaaa" stroke-width="0.9"/>
<rect x="494.65" y="214.42" width="7.40" height="63.78" fill="#fff" stroke="#3a3a3a" stroke-width="0.9"/>
<rect x="503.65" y="262.26" width="7.40" height="15.94" fill="#fff" stroke="#4a4a4a" stroke-width="0.9"/>
<rect x="512.65" y="260.26" width="7.40" height="17.94" fill="#fff" stroke="#6a6a6a" stroke-width="0.9"/>
<rect x="530.65" y="224.39" width="7.40" height="53.81" fill="#fff" stroke="#86b2cc" stroke-width="0.9"/>
<rect x="539.65" y="262.26" width="7.40" height="15.94" fill="#fff" stroke="#86b2cc" stroke-width="0.9"/>
<path d="M450.70,265.72L456.00,265.72L453.35,270.75Z" fill="#dc6264" stroke="#ad4245" stroke-width="0.55"/>
<path d="M449.70,271.69L455.00,271.69L452.35,276.73Z" fill="#dc6264" stroke="#ad4245" stroke-width="0.55"/>
<path d="M451.70,272.69L457.00,272.69L454.35,277.73Z" fill="#dc6264" stroke="#ad4245" stroke-width="0.55"/>
<rect x="459.88" y="269.75" width="4.94" height="4.94" fill="#dc6264" stroke="#ad4245" stroke-width="0.55"/>
<rect x="458.88" y="272.74" width="4.94" height="4.94" fill="#dc6264" stroke="#ad4245" stroke-width="0.55"/>
<rect x="460.88" y="273.74" width="4.94" height="4.94" fill="#dc6264" stroke="#ad4245" stroke-width="0.55"/>
<circle cx="470.35" cy="276.21" r="2.60" fill="#dc6264" stroke="#ad4245" stroke-width="0.55"/>
<circle cx="472.35" cy="277.00" r="2.60" fill="#dc6264" stroke="#ad4245" stroke-width="0.55"/>
<path d="M477.70,279.52L483.00,279.52L480.35,274.48Z" fill="#dc6264" stroke="#ad4245" stroke-width="0.55"/>
<circle cx="498.35" cy="210.84" r="2.60" fill="#b0b0b0" stroke="#777777" stroke-width="0.55"/>
<circle cx="497.35" cy="212.83" r="2.60" fill="#b0b0b0" stroke="#777777" stroke-width="0.55"/>
<circle cx="499.35" cy="214.42" r="2.60" fill="#b0b0b0" stroke="#777777" stroke-width="0.55"/>
<rect x="504.88" y="258.39" width="4.94" height="4.94" fill="#9a9a9a" stroke="#5e5e5e" stroke-width="0.55"/>
<rect x="503.88" y="259.79" width="4.94" height="4.94" fill="#9a9a9a" stroke="#5e5e5e" stroke-width="0.55"/>
<rect x="505.88" y="260.98" width="4.94" height="4.94" fill="#9a9a9a" stroke="#5e5e5e" stroke-width="0.55"/>
<path d="M513.70,259.79L519.00,259.79L516.35,254.75Z" fill="#bdbdbd" stroke="#777777" stroke-width="0.55"/>
<path d="M512.70,262.18L518.00,262.18L515.35,257.15Z" fill="#bdbdbd" stroke="#777777" stroke-width="0.55"/>
<path d="M514.70,263.78L520.00,263.78L517.35,258.74Z" fill="#bdbdbd" stroke="#777777" stroke-width="0.55"/>
<rect x="531.88" y="218.93" width="4.94" height="4.94" fill="#2f74a0" stroke="#1c4f70" stroke-width="0.55"/>
<rect x="530.88" y="220.72" width="4.94" height="4.94" fill="#2f74a0" stroke="#1c4f70" stroke-width="0.55"/>
<rect x="532.88" y="222.72" width="4.94" height="4.94" fill="#2f74a0" stroke="#1c4f70" stroke-width="0.55"/>
<circle cx="543.35" cy="259.86" r="2.60" fill="#2f74a0" stroke="#1c4f70" stroke-width="0.55"/>
<circle cx="542.35" cy="262.26" r="2.60" fill="#2f74a0" stroke="#1c4f70" stroke-width="0.55"/>
<circle cx="544.35" cy="264.25" r="2.60" fill="#2f74a0" stroke="#1c4f70" stroke-width="0.55"/>
<text x="338.35" y="268.00" font-size="9.2" text-anchor="middle">a</text>
<text x="347.35" y="268.00" font-size="9.2" text-anchor="middle">a</text>
<text x="356.35" y="268.00" font-size="9.2" text-anchor="middle">a</text>
<text x="365.35" y="268.00" font-size="9.2" text-anchor="middle">a</text>
<text x="383.35" y="268.00" font-size="9.2" text-anchor="middle">a</text>
<text x="392.35" y="268.00" font-size="9.2" text-anchor="middle">a</text>
<text x="401.35" y="268.00" font-size="9.2" text-anchor="middle">a</text>
<text x="419.35" y="249.30" font-size="9.2" text-anchor="middle">b</text>
<text x="428.35" y="264.90" font-size="9.2" text-anchor="middle">c</text>
<text x="453.35" y="264.90" font-size="9.2" text-anchor="middle">a</text>
<text x="462.35" y="264.90" font-size="9.2" text-anchor="middle">a</text>
<text x="471.35" y="264.90" font-size="9.2" text-anchor="middle">a</text>
<text x="480.35" y="264.90" font-size="9.2" text-anchor="middle">a</text>
<text x="498.35" y="203.40" font-size="9.2" text-anchor="middle">b</text>
<text x="498.35" y="191.70" font-size="9.2" text-anchor="middle" font-weight="bold">#</text>
<text x="507.35" y="252.10" font-size="9.2" text-anchor="middle">c</text>
<text x="507.35" y="243.90" font-size="9.2" text-anchor="middle" font-weight="bold">#</text>
<text x="516.35" y="246.20" font-size="9.2" text-anchor="middle">c</text>
<text x="516.35" y="238.50" font-size="9.2" text-anchor="middle" font-weight="bold">#</text>
<text x="534.35" y="212.40" font-size="9.2" text-anchor="middle">d</text>
<text x="534.35" y="201.20" font-size="9.2" text-anchor="middle" font-weight="bold">#</text>
<text x="543.35" y="252.10" font-size="9.2" text-anchor="middle">c</text>
<text x="543.35" y="243.90" font-size="9.2" text-anchor="middle" font-weight="bold">#</text>
<text x="162.25" y="332.50" font-size="10.45" text-anchor="middle">Siderophores production</text>
<line x1="51.20" y1="343.60" x2="51.20" y2="423.30" stroke="#1a1a1a" stroke-width="1.0"/>
<line x1="48.80" y1="423.30" x2="51.20" y2="423.30" stroke="#1a1a1a" stroke-width="1.0"/>
<text x="46.90" y="426.85" font-size="10.0" text-anchor="end">0</text>
<line x1="48.80" y1="403.38" x2="51.20" y2="403.38" stroke="#1a1a1a" stroke-width="1.0"/>
<text x="46.90" y="406.93" font-size="10.0" text-anchor="end">20</text>
<line x1="48.80" y1="383.46" x2="51.20" y2="383.46" stroke="#1a1a1a" stroke-width="1.0"/>
<text x="46.90" y="387.01" font-size="10.0" text-anchor="end">40</text>
<line x1="48.80" y1="363.54" x2="51.20" y2="363.54" stroke="#1a1a1a" stroke-width="1.0"/>
<text x="46.90" y="367.09" font-size="10.0" text-anchor="end">60</text>
<line x1="48.80" y1="343.62" x2="51.20" y2="343.62" stroke="#1a1a1a" stroke-width="1.0"/>
<text x="46.90" y="347.17" font-size="10.0" text-anchor="end">80</text>
<line x1="50.70" y1="423.30" x2="272.50" y2="423.30" stroke="#1a1a1a" stroke-width="1.0"/>
<line x1="104.50" y1="423.30" x2="104.50" y2="425.50" stroke="#1a1a1a" stroke-width="1.0"/>
<line x1="219.60" y1="423.30" x2="219.60" y2="425.50" stroke="#1a1a1a" stroke-width="1.0"/>
<line x1="162.50" y1="344.20" x2="162.50" y2="423.00" stroke="#444" stroke-width="1.0" stroke-dasharray="1,1.1"/>
<text x="104.20" y="434.10" font-size="8.1" text-anchor="middle">Rich medium</text>
<text x="219.50" y="434.10" font-size="8.1" text-anchor="middle">Minimal medium</text>
<text x="31.20" y="383.00" font-size="9.6" text-anchor="middle" transform="rotate(-90 31.20 383.00)">% Siderophores units</text>
<rect x="55.85" y="401.39" width="7.40" height="21.91" fill="#fff" stroke="#eeaaaa" stroke-width="0.9"/>
<rect x="64.85" y="401.39" width="7.40" height="21.91" fill="#fff" stroke="#eeaaaa" stroke-width="0.9"/>
<rect x="73.85" y="388.44" width="7.40" height="34.86" fill="#fff" stroke="#eeaaaa" stroke-width="0.9"/>
<rect x="82.85" y="388.44" width="7.40" height="34.86" fill="#fff" stroke="#eeaaaa" stroke-width="0.9"/>
<rect x="100.85" y="396.41" width="7.40" height="26.89" fill="#fff" stroke="#3a3a3a" stroke-width="0.9"/>
<rect x="109.85" y="406.37" width="7.40" height="16.93" fill="#fff" stroke="#4a4a4a" stroke-width="0.9"/>
<rect x="118.85" y="399.40" width="7.40" height="23.90" fill="#fff" stroke="#6a6a6a" stroke-width="0.9"/>
<rect x="136.85" y="386.45" width="7.40" height="36.85" fill="#fff" stroke="#86b2cc" stroke-width="0.9"/>
<rect x="145.85" y="393.42" width="7.40" height="29.88" fill="#fff" stroke="#86b2cc" stroke-width="0.9"/>
<path d="M56.90,389.90L62.20,389.90L59.55,394.94Z" fill="#dc6264" stroke="#ad4245" stroke-width="0.55"/>
<path d="M56.90,395.88L62.20,395.88L59.55,400.92Z" fill="#dc6264" stroke="#ad4245" stroke-width="0.55"/>
<path d="M55.90,397.87L61.20,397.87L58.55,402.91Z" fill="#dc6264" stroke="#ad4245" stroke-width="0.55"/>
<path d="M57.90,399.86L63.20,399.86L60.55,404.90Z" fill="#dc6264" stroke="#ad4245" stroke-width="0.55"/>
<path d="M56.90,400.86L62.20,400.86L59.55,405.90Z" fill="#dc6264" stroke="#ad4245" stroke-width="0.55"/>
<path d="M56.40,401.86L61.70,401.86L59.05,406.90Z" fill="#dc6264" stroke="#ad4245" stroke-width="0.55"/>
<rect x="65.08" y="394.93" width="4.94" height="4.94" fill="#dc6264" stroke="#ad4245" stroke-width="0.55"/>
<rect x="67.08" y="395.93" width="4.94" height="4.94" fill="#dc6264" stroke="#ad4245" stroke-width="0.55"/>
<rect x="66.08" y="398.92" width="4.94" height="4.94" fill="#dc6264" stroke="#ad4245" stroke-width="0.55"/>
<rect x="66.08" y="400.91" width="4.94" height="4.94" fill="#dc6264" stroke="#ad4245" stroke-width="0.55"/>
<rect x="66.08" y="405.89" width="4.94" height="4.94" fill="#dc6264" stroke="#ad4245" stroke-width="0.55"/>
<rect x="66.08" y="408.88" width="4.94" height="4.94" fill="#dc6264" stroke="#ad4245" stroke-width="0.55"/>
<circle cx="76.55" cy="386.45" r="2.60" fill="#dc6264" stroke="#ad4245" stroke-width="0.55"/>
<circle cx="78.55" cy="387.44" r="2.60" fill="#dc6264" stroke="#ad4245" stroke-width="0.55"/>
<circle cx="77.55" cy="393.42" r="2.60" fill="#dc6264" stroke="#ad4245" stroke-width="0.55"/>
<path d="M82.90,387.97L88.20,387.97L85.55,382.93Z" fill="#dc6264" stroke="#ad4245" stroke-width="0.55"/>
<path d="M84.90,388.97L90.20,388.97L87.55,383.93Z" fill="#dc6264" stroke="#ad4245" stroke-width="0.55"/>
<path d="M83.90,389.96L89.20,389.96L86.55,384.92Z" fill="#dc6264" stroke="#ad4245" stroke-width="0.55"/>
<path d="M83.90,409.88L89.20,409.88L86.55,404.84Z" fill="#dc6264" stroke="#ad4245" stroke-width="0.55"/>
<circle cx="104.55" cy="393.42" r="2.60" fill="#b0b0b0" stroke="#777777" stroke-width="0.55"/>
<circle cx="103.55" cy="395.41" r="2.60" fill="#b0b0b0" stroke="#777777" stroke-width="0.55"/>
<circle cx="105.55" cy="396.41" r="2.60" fill="#b0b0b0" stroke="#777777" stroke-width="0.55"/>
<rect x="111.08" y="400.91" width="4.94" height="4.94" fill="#9a9a9a" stroke="#5e5e5e" stroke-width="0.55"/>
<rect x="110.08" y="402.90" width="4.94" height="4.94" fill="#9a9a9a" stroke="#5e5e5e" stroke-width="0.55"/>
<rect x="112.08" y="404.89" width="4.94" height="4.94" fill="#9a9a9a" stroke="#5e5e5e" stroke-width="0.55"/>
<rect x="111.08" y="406.89" width="4.94" height="4.94" fill="#9a9a9a" stroke="#5e5e5e" stroke-width="0.55"/>
<path d="M119.90,399.92L125.20,399.92L122.55,394.88Z" fill="#bdbdbd" stroke="#777777" stroke-width="0.55"/>
<path d="M118.90,401.92L124.20,401.92L121.55,396.88Z" fill="#bdbdbd" stroke="#777777" stroke-width="0.55"/>
<path d="M119.90,410.88L125.20,410.88L122.55,405.84Z" fill="#bdbdbd" stroke="#777777" stroke-width="0.55"/>
<rect x="138.08" y="381.99" width="4.94" height="4.94" fill="#2f74a0" stroke="#1c4f70" stroke-width="0.55"/>
<rect x="138.08" y="387.96" width="4.94" height="4.94" fill="#2f74a0" stroke="#1c4f70" stroke-width="0.55"/>
<circle cx="149.55" cy="390.43" r="2.60" fill="#2f74a0" stroke="#1c4f70" stroke-width="0.55"/>
<circle cx="148.55" cy="393.42" r="2.60" fill="#2f74a0" stroke="#1c4f70" stroke-width="0.55"/>
<circle cx="150.55" cy="396.41" r="2.60" fill="#2f74a0" stroke="#1c4f70" stroke-width="0.55"/>
<rect x="170.85" y="403.38" width="7.40" height="19.92" fill="#fff" stroke="#eeaaaa" stroke-width="0.9"/>
<rect x="179.85" y="378.48" width="7.40" height="44.82" fill="#fff" stroke="#eeaaaa" stroke-width="0.9"/>
<rect x="188.85" y="355.57" width="7.40" height="67.73" fill="#fff" stroke="#eeaaaa" stroke-width="0.9"/>
<rect x="197.85" y="359.56" width="7.40" height="63.74" fill="#fff" stroke="#eeaaaa" stroke-width="0.9"/>
<rect x="215.85" y="355.57" width="7.40" height="67.73" fill="#fff" stroke="#3a3a3a" stroke-width="0.9"/>
<rect x="224.85" y="355.57" width="7.40" height="67.73" fill="#fff" stroke="#4a4a4a" stroke-width="0.9"/>
<rect x="233.85" y="356.57" width="7.40" height="66.73" fill="#fff" stroke="#6a6a6a" stroke-width="0.9"/>
<rect x="251.85" y="393.42" width="7.40" height="29.88" fill="#fff" stroke="#86b2cc" stroke-width="0.9"/>
<rect x="260.85" y="401.39" width="7.40" height="21.91" fill="#fff" stroke="#86b2cc" stroke-width="0.9"/>
<path d="M171.90,394.88L177.20,394.88L174.55,399.92Z" fill="#dc6264" stroke="#ad4245" stroke-width="0.55"/>
<path d="M170.90,398.87L176.20,398.87L173.55,403.91Z" fill="#dc6264" stroke="#ad4245" stroke-width="0.55"/>
<path d="M172.90,400.86L178.20,400.86L175.55,405.90Z" fill="#dc6264" stroke="#ad4245" stroke-width="0.55"/>
<path d="M171.90,402.85L177.20,402.85L174.55,407.89Z" fill="#dc6264" stroke="#ad4245" stroke-width="0.55"/>
<path d="M171.90,404.84L177.20,404.84L174.55,409.88Z" fill="#dc6264" stroke="#ad4245" stroke-width="0.55"/>
<rect x="182.08" y="361.07" width="4.94" height="4.94" fill="#dc6264" stroke="#ad4245" stroke-width="0.55"/>
<rect x="179.58" y="363.06" width="4.94" height="4.94" fill="#dc6264" stroke="#ad4245" stroke-width="0.55"/>
<rect x="182.58" y="364.06" width="4.94" height="4.94" fill="#dc6264" stroke="#ad4245" stroke-width="0.55"/>
<rect x="180.08" y="366.05" width="4.94" height="4.94" fill="#dc6264" stroke="#ad4245" stroke-width="0.55"/>
<rect x="182.08" y="368.04" width="4.94" height="4.94" fill="#dc6264" stroke="#ad4245" stroke-width="0.55"/>
<rect x="181.08" y="371.03" width="4.94" height="4.94" fill="#dc6264" stroke="#ad4245" stroke-width="0.55"/>
<rect x="179.58" y="374.02" width="4.94" height="4.94" fill="#dc6264" stroke="#ad4245" stroke-width="0.55"/>
<rect x="182.08" y="377.01" width="4.94" height="4.94" fill="#dc6264" stroke="#ad4245" stroke-width="0.55"/>
<rect x="181.08" y="387.96" width="4.94" height="4.94" fill="#dc6264" stroke="#ad4245" stroke-width="0.55"/>
<circle cx="192.55" cy="351.59" r="2.60" fill="#dc6264" stroke="#ad4245" stroke-width="0.55"/>
<circle cx="191.05" cy="353.58" r="2.60" fill="#dc6264" stroke="#ad4245" stroke-width="0.55"/>
<circle cx="194.05" cy="355.57" r="2.60" fill="#dc6264" stroke="#ad4245" stroke-width="0.55"/>
<circle cx="191.55" cy="357.56" r="2.60" fill="#dc6264" stroke="#ad4245" stroke-width="0.55"/>
<circle cx="193.55" cy="359.56" r="2.60" fill="#dc6264" stroke="#ad4245" stroke-width="0.55"/>
<path d="M198.90,356.10L204.20,356.10L201.55,351.06Z" fill="#dc6264" stroke="#ad4245" stroke-width="0.55"/>
<path d="M197.40,358.09L202.70,358.09L200.05,353.05Z" fill="#dc6264" stroke="#ad4245" stroke-width="0.55"/>
<path d="M200.40,360.08L205.70,360.08L203.05,355.04Z" fill="#dc6264" stroke="#ad4245" stroke-width="0.55"/>
<path d="M198.90,362.08L204.20,362.08L201.55,357.04Z" fill="#dc6264" stroke="#ad4245" stroke-width="0.55"/>
<path d="M197.90,364.07L203.20,364.07L200.55,359.03Z" fill="#dc6264" stroke="#ad4245" stroke-width="0.55"/>
<path d="M198.90,366.06L204.20,366.06L201.55,361.02Z" fill="#dc6264" stroke="#ad4245" stroke-width="0.55"/>
<circle cx="219.55" cy="353.58" r="2.60" fill="#b0b0b0" stroke="#777777" stroke-width="0.55"/>
<circle cx="218.55" cy="354.58" r="2.60" fill="#b0b0b0" stroke="#777777" stroke-width="0.55"/>
<circle cx="219.55" cy="371.51" r="2.60" fill="#b0b0b0" stroke="#777777" stroke-width="0.55"/>
<circle cx="219.55" cy="373.50" r="2.60" fill="#b0b0b0" stroke="#777777" stroke-width="0.55"/>
<rect x="226.08" y="351.11" width="4.94" height="4.94" fill="#9a9a9a" stroke="#5e5e5e" stroke-width="0.55"/>
<rect x="225.08" y="353.10" width="4.94" height="4.94" fill="#9a9a9a" stroke="#5e5e5e" stroke-width="0.55"/>
<rect x="227.08" y="354.10" width="4.94" height="4.94" fill="#9a9a9a" stroke="#5e5e5e" stroke-width="0.55"/>
<rect x="226.08" y="380.99" width="4.94" height="4.94" fill="#9a9a9a" stroke="#5e5e5e" stroke-width="0.55"/>
<path d="M234.90,357.10L240.20,357.10L237.55,352.06Z" fill="#bdbdbd" stroke="#777777" stroke-width="0.55"/>
<path d="M233.90,360.08L239.20,360.08L236.55,355.04Z" fill="#bdbdbd" stroke="#777777" stroke-width="0.55"/>
<path d="M235.90,362.08L241.20,362.08L238.55,357.04Z" fill="#bdbdbd" stroke="#777777" stroke-width="0.55"/>
<path d="M234.90,364.07L240.20,364.07L237.55,359.03Z" fill="#bdbdbd" stroke="#777777" stroke-width="0.55"/>
<rect x="253.08" y="388.96" width="4.94" height="4.94" fill="#2f74a0" stroke="#1c4f70" stroke-width="0.55"/>
<rect x="252.08" y="391.95" width="4.94" height="4.94" fill="#2f74a0" stroke="#1c4f70" stroke-width="0.55"/>
<rect x="254.08" y="395.93" width="4.94" height="4.94" fill="#2f74a0" stroke="#1c4f70" stroke-width="0.55"/>
<rect x="253.08" y="398.92" width="4.94" height="4.94" fill="#2f74a0" stroke="#1c4f70" stroke-width="0.55"/>
<circle cx="264.55" cy="389.44" r="2.60" fill="#2f74a0" stroke="#1c4f70" stroke-width="0.55"/>
<circle cx="264.55" cy="393.42" r="2.60" fill="#2f74a0" stroke="#1c4f70" stroke-width="0.55"/>
<circle cx="264.55" cy="399.40" r="2.60" fill="#2f74a0" stroke="#1c4f70" stroke-width="0.55"/>
<circle cx="263.55" cy="403.38" r="2.60" fill="#2f74a0" stroke="#1c4f70" stroke-width="0.55"/>
<circle cx="265.55" cy="403.38" r="2.60" fill="#2f74a0" stroke="#1c4f70" stroke-width="0.55"/>
<text x="59.55" y="381.40" font-size="9.2" text-anchor="middle">ad</text>
<text x="68.55" y="390.60" font-size="9.2" text-anchor="middle">ad</text>
<text x="77.55" y="378.40" font-size="9.2" text-anchor="middle">bc</text>
<text x="86.55" y="371.80" font-size="9.2" text-anchor="middle">ac</text>
<text x="104.55" y="386.50" font-size="9.2" text-anchor="middle">ac</text>
<text x="113.55" y="397.80" font-size="9.2" text-anchor="middle">d</text>
<text x="122.55" y="388.60" font-size="9.2" text-anchor="middle">ad</text>
<text x="140.55" y="373.40" font-size="9.2" text-anchor="middle">bc</text>
<text x="149.55" y="380.90" font-size="9.2" text-anchor="middle">ac</text>
<text x="174.55" y="390.80" font-size="9.2" text-anchor="middle">a</text>
<text x="183.55" y="360.50" font-size="9.2" text-anchor="middle">b</text>
<text x="183.55" y="350.20" font-size="9.2" text-anchor="middle" font-weight="bold">#</text>
<text x="192.55" y="348.80" font-size="9.2" text-anchor="middle">c</text>
<text x="192.55" y="341.90" font-size="9.2" text-anchor="middle" font-weight="bold">#</text>
<text x="201.55" y="348.80" font-size="9.2" text-anchor="middle">c</text>
<text x="201.55" y="341.90" font-size="9.2" text-anchor="middle" font-weight="bold">#</text>
<text x="219.55" y="347.70" font-size="9.2" text-anchor="middle">c</text>
<text x="219.55" y="340.20" font-size="9.2" text-anchor="middle" font-weight="bold">#</text>
<text x="228.55" y="347.70" font-size="9.2" text-anchor="middle">c</text>
<text x="228.55" y="340.20" font-size="9.2" text-anchor="middle" font-weight="bold">#</text>
<text x="237.55" y="347.70" font-size="9.2" text-anchor="middle">c</text>
<text x="237.55" y="340.20" font-size="9.2" text-anchor="middle" font-weight="bold">#</text>
<text x="255.55" y="377.60" font-size="9.2" text-anchor="middle">a</text>
<text x="264.55" y="377.60" font-size="9.2" text-anchor="middle">a</text>
<text x="442.65" y="332.30" font-size="10.5" text-anchor="middle">Human serum resistance</text>
<rect x="331.20" y="413.50" width="223.00" height="10.00" fill="#e3e3e3" stroke="none" stroke-width="1"/>
<line x1="331.20" y1="413.50" x2="554.10" y2="413.50" stroke="#8a8a8a" stroke-width="0.6" stroke-dasharray="3.4,1.6"/>
<text x="553.40" y="420.90" font-size="6.55" text-anchor="end">Detection limit</text>
<line x1="331.10" y1="343.50" x2="331.10" y2="423.50" stroke="#1a1a1a" stroke-width="1.0"/>
<line x1="328.70" y1="343.50" x2="331.10" y2="343.50" stroke="#1a1a1a" stroke-width="1.0"/>
<text x="326.00" y="347.05" font-size="10.0" text-anchor="end">3</text>
<line x1="328.70" y1="353.50" x2="331.10" y2="353.50" stroke="#1a1a1a" stroke-width="1.0"/>
<text x="326.00" y="357.05" font-size="10.0" text-anchor="end">2</text>
<line x1="328.70" y1="363.50" x2="331.10" y2="363.50" stroke="#1a1a1a" stroke-width="1.0"/>
<text x="326.00" y="367.05" font-size="10.0" text-anchor="end">1</text>
<line x1="328.70" y1="373.50" x2="331.10" y2="373.50" stroke="#1a1a1a" stroke-width="1.0"/>
<text x="326.00" y="377.05" font-size="10.0" text-anchor="end">0</text>
<line x1="328.70" y1="383.50" x2="331.10" y2="383.50" stroke="#1a1a1a" stroke-width="1.0"/>
<text x="326.00" y="387.05" font-size="10.0" text-anchor="end">&#8722;1</text>
<line x1="328.70" y1="393.50" x2="331.10" y2="393.50" stroke="#1a1a1a" stroke-width="1.0"/>
<text x="326.00" y="397.05" font-size="10.0" text-anchor="end">&#8722;2</text>
<line x1="328.70" y1="403.50" x2="331.10" y2="403.50" stroke="#1a1a1a" stroke-width="1.0"/>
<text x="326.00" y="407.05" font-size="10.0" text-anchor="end">&#8722;3</text>
<line x1="328.70" y1="413.50" x2="331.10" y2="413.50" stroke="#1a1a1a" stroke-width="1.0"/>
<text x="326.00" y="417.05" font-size="10.0" text-anchor="end">&#8722;4</text>
<line x1="328.70" y1="423.50" x2="331.10" y2="423.50" stroke="#1a1a1a" stroke-width="1.0"/>
<text x="326.00" y="427.05" font-size="10.0" text-anchor="end">&#8722;5</text>
<line x1="330.70" y1="423.50" x2="554.10" y2="423.50" stroke="#1a1a1a" stroke-width="1.0"/>
<line x1="384.60" y1="423.50" x2="384.60" y2="425.70" stroke="#1a1a1a" stroke-width="1.0"/>
<line x1="500.40" y1="423.50" x2="500.40" y2="425.70" stroke="#1a1a1a" stroke-width="1.0"/>
<line x1="442.50" y1="343.50" x2="442.50" y2="423.50" stroke="#444" stroke-width="1.0" stroke-dasharray="1,1.1"/>
<text x="384.50" y="434.60" font-size="8.1" text-anchor="middle">Rich medium</text>
<text x="500.20" y="434.40" font-size="8.1" text-anchor="middle">Minimal medium</text>
<text x="298.60" y="383.00" font-size="9.7" text-anchor="middle" transform="rotate(-90 298.60 383.00)">log<tspan font-size="6.8" dy="2">10</tspan><tspan dy="-2"> CFUs/ml</tspan></text>
<text x="312.40" y="383.20" font-size="9.7" text-anchor="middle" transform="rotate(-90 312.40 383.20)">fold change to untreated</text>
<rect x="335.35" y="373.50" width="7.30" height="44.00" fill="#fff" stroke="#eeaaaa" stroke-width="0.9"/>
<rect x="344.45" y="373.50" width="7.30" height="50.00" fill="#fff" stroke="#eeaaaa" stroke-width="0.9"/>
<rect x="353.55" y="373.50" width="7.30" height="22.00" fill="#fff" stroke="#eeaaaa" stroke-width="0.9"/>
<rect x="362.65" y="373.50" width="7.30" height="0.00" fill="#fff" stroke="#eeaaaa" stroke-width="0.9"/>
<rect x="380.85" y="359.50" width="7.30" height="14.00" fill="#fff" stroke="#3a3a3a" stroke-width="0.9"/>
<rect x="389.95" y="358.50" width="7.30" height="15.00" fill="#fff" stroke="#4a4a4a" stroke-width="0.9"/>
<rect x="399.05" y="358.50" width="7.30" height="15.00" fill="#fff" stroke="#6a6a6a" stroke-width="0.9"/>
<rect x="417.25" y="356.50" width="7.30" height="17.00" fill="#fff" stroke="#86b2cc" stroke-width="0.9"/>
<rect x="426.35" y="372.50" width="7.30" height="1.00" fill="#fff" stroke="#86b2cc" stroke-width="0.9"/>
<path d="M334.85,409.98L340.15,409.98L337.50,415.02Z" fill="#dc6264" stroke="#ad4245" stroke-width="0.55"/>
<path d="M337.85,410.98L343.15,410.98L340.50,416.02Z" fill="#dc6264" stroke="#ad4245" stroke-width="0.55"/>
<path d="M335.35,420.98L340.65,420.98L338.00,426.02Z" fill="#dc6264" stroke="#ad4245" stroke-width="0.55"/>
<path d="M337.35,420.98L342.65,420.98L340.00,426.02Z" fill="#dc6264" stroke="#ad4245" stroke-width="0.55"/>
<rect x="343.63" y="421.03" width="4.94" height="4.94" fill="#dc6264" stroke="#ad4245" stroke-width="0.55"/>
<rect x="347.63" y="421.03" width="4.94" height="4.94" fill="#dc6264" stroke="#ad4245" stroke-width="0.55"/>
<circle cx="357.20" cy="391.50" r="2.60" fill="#dc6264" stroke="#ad4245" stroke-width="0.55"/>
<circle cx="355.70" cy="397.50" r="2.60" fill="#dc6264" stroke="#ad4245" stroke-width="0.55"/>
<circle cx="358.70" cy="397.50" r="2.60" fill="#dc6264" stroke="#ad4245" stroke-width="0.55"/>
<circle cx="357.20" cy="401.50" r="2.60" fill="#dc6264" stroke="#ad4245" stroke-width="0.55"/>
<circle cx="358.20" cy="409.50" r="2.60" fill="#dc6264" stroke="#ad4245" stroke-width="0.55"/>
<circle cx="356.20" cy="413.50" r="2.60" fill="#dc6264" stroke="#ad4245" stroke-width="0.55"/>
<path d="M362.15,372.02L367.45,372.02L364.80,366.98Z" fill="#dc6264" stroke="#ad4245" stroke-width="0.55"/>
<path d="M365.65,372.02L370.95,372.02L368.30,366.98Z" fill="#dc6264" stroke="#ad4245" stroke-width="0.55"/>
<path d="M363.65,384.02L368.95,384.02L366.30,378.98Z" fill="#dc6264" stroke="#ad4245" stroke-width="0.55"/>
<path d="M363.65,392.02L368.95,392.02L366.30,386.98Z" fill="#dc6264" stroke="#ad4245" stroke-width="0.55"/>
<circle cx="384.50" cy="353.50" r="2.60" fill="#b0b0b0" stroke="#777777" stroke-width="0.55"/>
<circle cx="383.50" cy="356.50" r="2.60" fill="#b0b0b0" stroke="#777777" stroke-width="0.55"/>
<circle cx="385.50" cy="358.50" r="2.60" fill="#b0b0b0" stroke="#777777" stroke-width="0.55"/>
<circle cx="384.50" cy="363.50" r="2.60" fill="#b0b0b0" stroke="#777777" stroke-width="0.55"/>
<rect x="391.13" y="352.03" width="4.94" height="4.94" fill="#9a9a9a" stroke="#5e5e5e" stroke-width="0.55"/>
<rect x="390.13" y="355.03" width="4.94" height="4.94" fill="#9a9a9a" stroke="#5e5e5e" stroke-width="0.55"/>
<rect x="392.13" y="358.03" width="4.94" height="4.94" fill="#9a9a9a" stroke="#5e5e5e" stroke-width="0.55"/>
<rect x="391.13" y="362.03" width="4.94" height="4.94" fill="#9a9a9a" stroke="#5e5e5e" stroke-width="0.55"/>
<path d="M400.05,356.02L405.35,356.02L402.70,350.98Z" fill="#bdbdbd" stroke="#777777" stroke-width="0.55"/>
<path d="M399.05,359.02L404.35,359.02L401.70,353.98Z" fill="#bdbdbd" stroke="#777777" stroke-width="0.55"/>
<path d="M401.05,361.02L406.35,361.02L403.70,355.98Z" fill="#bdbdbd" stroke="#777777" stroke-width="0.55"/>
<rect x="418.43" y="352.03" width="4.94" height="4.94" fill="#2f74a0" stroke="#1c4f70" stroke-width="0.55"/>
<rect x="417.93" y="354.03" width="4.94" height="4.94" fill="#2f74a0" stroke="#1c4f70" stroke-width="0.55"/>
<rect x="418.93" y="356.03" width="4.94" height="4.94" fill="#2f74a0" stroke="#1c4f70" stroke-width="0.55"/>
<circle cx="430.00" cy="371.00" r="2.60" fill="#2f74a0" stroke="#1c4f70" stroke-width="0.55"/>
<circle cx="429.00" cy="372.50" r="2.60" fill="#2f74a0" stroke="#1c4f70" stroke-width="0.55"/>
<circle cx="431.00" cy="373.00" r="2.60" fill="#2f74a0" stroke="#1c4f70" stroke-width="0.55"/>
<rect x="451.65" y="373.50" width="7.30" height="49.00" fill="#fff" stroke="#eeaaaa" stroke-width="0.9"/>
<rect x="460.75" y="373.50" width="7.30" height="50.00" fill="#fff" stroke="#eeaaaa" stroke-width="0.9"/>
<rect x="469.85" y="354.50" width="7.30" height="19.00" fill="#fff" stroke="#eeaaaa" stroke-width="0.9"/>
<rect x="478.95" y="368.50" width="7.30" height="5.00" fill="#fff" stroke="#eeaaaa" stroke-width="0.9"/>
<rect x="497.15" y="358.50" width="7.30" height="15.00" fill="#fff" stroke="#3a3a3a" stroke-width="0.9"/>
<rect x="506.25" y="357.50" width="7.30" height="16.00" fill="#fff" stroke="#4a4a4a" stroke-width="0.9"/>
<rect x="515.35" y="352.50" width="7.30" height="21.00" fill="#fff" stroke="#6a6a6a" stroke-width="0.9"/>
<rect x="533.55" y="355.50" width="7.30" height="18.00" fill="#fff" stroke="#86b2cc" stroke-width="0.9"/>
<rect x="542.65" y="365.50" width="7.30" height="8.00" fill="#fff" stroke="#86b2cc" stroke-width="0.9"/>
<path d="M452.65,410.98L457.95,410.98L455.30,416.02Z" fill="#dc6264" stroke="#ad4245" stroke-width="0.55"/>
<path d="M451.15,419.98L456.45,419.98L453.80,425.02Z" fill="#dc6264" stroke="#ad4245" stroke-width="0.55"/>
<path d="M454.15,420.98L459.45,420.98L456.80,426.02Z" fill="#dc6264" stroke="#ad4245" stroke-width="0.55"/>
<rect x="459.93" y="421.03" width="4.94" height="4.94" fill="#dc6264" stroke="#ad4245" stroke-width="0.55"/>
<rect x="463.93" y="421.03" width="4.94" height="4.94" fill="#dc6264" stroke="#ad4245" stroke-width="0.55"/>
<circle cx="472.50" cy="354.00" r="2.60" fill="#dc6264" stroke="#ad4245" stroke-width="0.55"/>
<circle cx="474.50" cy="355.00" r="2.60" fill="#dc6264" stroke="#ad4245" stroke-width="0.55"/>
<path d="M479.95,367.02L485.25,367.02L482.60,361.98Z" fill="#dc6264" stroke="#ad4245" stroke-width="0.55"/>
<path d="M478.95,371.02L484.25,371.02L481.60,365.98Z" fill="#dc6264" stroke="#ad4245" stroke-width="0.55"/>
<path d="M480.95,374.02L486.25,374.02L483.60,368.98Z" fill="#dc6264" stroke="#ad4245" stroke-width="0.55"/>
<path d="M479.95,376.02L485.25,376.02L482.60,370.98Z" fill="#dc6264" stroke="#ad4245" stroke-width="0.55"/>
<circle cx="500.80" cy="354.50" r="2.60" fill="#b0b0b0" stroke="#777777" stroke-width="0.55"/>
<circle cx="499.80" cy="357.50" r="2.60" fill="#b0b0b0" stroke="#777777" stroke-width="0.55"/>
<circle cx="501.80" cy="360.50" r="2.60" fill="#b0b0b0" stroke="#777777" stroke-width="0.55"/>
<rect x="507.43" y="352.03" width="4.94" height="4.94" fill="#9a9a9a" stroke="#5e5e5e" stroke-width="0.55"/>
<rect x="506.43" y="354.03" width="4.94" height="4.94" fill="#9a9a9a" stroke="#5e5e5e" stroke-width="0.55"/>
<rect x="508.43" y="357.03" width="4.94" height="4.94" fill="#9a9a9a" stroke="#5e5e5e" stroke-width="0.55"/>
<path d="M516.35,353.02L521.65,353.02L519.00,347.98Z" fill="#bdbdbd" stroke="#777777" stroke-width="0.55"/>
<path d="M515.35,355.02L520.65,355.02L518.00,349.98Z" fill="#bdbdbd" stroke="#777777" stroke-width="0.55"/>
<path d="M517.35,356.02L522.65,356.02L520.00,350.98Z" fill="#bdbdbd" stroke="#777777" stroke-width="0.55"/>
<rect x="534.73" y="352.03" width="4.94" height="4.94" fill="#2f74a0" stroke="#1c4f70" stroke-width="0.55"/>
<rect x="534.23" y="354.03" width="4.94" height="4.94" fill="#2f74a0" stroke="#1c4f70" stroke-width="0.55"/>
<circle cx="546.30" cy="363.50" r="2.60" fill="#2f74a0" stroke="#1c4f70" stroke-width="0.55"/>
<circle cx="545.30" cy="365.50" r="2.60" fill="#2f74a0" stroke="#1c4f70" stroke-width="0.55"/>
<circle cx="547.30" cy="367.50" r="2.60" fill="#2f74a0" stroke="#1c4f70" stroke-width="0.55"/>
<text x="339.00" y="364.10" font-size="9.2" text-anchor="middle">a</text>
<text x="348.10" y="364.10" font-size="9.2" text-anchor="middle">a</text>
<text x="357.20" y="364.10" font-size="9.2" text-anchor="middle">a</text>
<text x="366.30" y="364.10" font-size="9.2" text-anchor="middle">a</text>
<text x="384.50" y="348.80" font-size="9.2" text-anchor="middle">b</text>
<text x="393.60" y="348.80" font-size="9.2" text-anchor="middle">b</text>
<text x="402.70" y="348.80" font-size="9.2" text-anchor="middle">b</text>
<text x="420.90" y="348.80" font-size="9.2" text-anchor="middle">b</text>
<text x="430.00" y="364.90" font-size="9.2" text-anchor="middle">a</text>
<text x="455.30" y="369.70" font-size="9.2" text-anchor="middle">a</text>
<text x="464.40" y="369.70" font-size="9.2" text-anchor="middle">a</text>
<text x="473.50" y="350.50" font-size="9.2" text-anchor="middle">b</text>
<text x="473.50" y="340.20" font-size="9.2" text-anchor="middle" font-weight="bold">#</text>
<text x="482.60" y="358.80" font-size="9.2" text-anchor="middle">ad</text>
<text x="497.40" y="350.00" font-size="9.2" text-anchor="middle">ade</text>
<text x="509.90" y="348.90" font-size="9.2" text-anchor="middle">b</text>
<text x="519.00" y="345.20" font-size="9.2" text-anchor="middle">c</text>
<text x="519.00" y="336.90" font-size="9.2" text-anchor="middle" font-weight="bold">#</text>
<text x="537.20" y="350.00" font-size="9.2" text-anchor="middle">b</text>
<text x="546.30" y="357.00" font-size="9.2" text-anchor="middle">ae</text>
<line x1="331.20" y1="373.50" x2="554.10" y2="373.50" stroke="#1a1a1a" stroke-width="1.2"/>
<path d="M568.80,269.23L573.80,269.23L571.30,273.98Z" fill="#dc6264" stroke="#ad4245" stroke-width="0.5"/>
<text x="577.30" y="274.60" font-size="8.55" fill="#d8666a">MG1655</text>
<rect x="568.80" y="279.50" width="5.00" height="5.00" fill="#dc6264" stroke="#ad4245" stroke-width="0.5"/>
<text x="577.30" y="285.10" font-size="8.55" fill="#d8666a">AIEC</text>
<circle cx="571.30" cy="292.40" r="2.50" fill="#dc6264" stroke="#ad4245" stroke-width="0.5"/>
<text x="577.30" y="295.60" font-size="8.55" fill="#d8666a">EcN</text>
<path d="M568.80,305.18L573.80,305.18L571.30,300.43Z" fill="#dc6264" stroke="#ad4245" stroke-width="0.5"/>
<text x="577.30" y="306.00" font-size="8.55" fill="#d8666a">Ec1898</text>
<circle cx="571.30" cy="313.10" r="2.50" fill="#b3b3b3" stroke="#9a9a9a" stroke-width="0.5"/>
<text x="577.30" y="316.60" font-size="8.55">Kp1012</text>
<rect x="568.80" y="320.40" width="5.00" height="5.00" fill="#bababa" stroke="#a0a0a0" stroke-width="0.5"/>
<text x="577.30" y="326.40" font-size="8.55">Kp834</text>
<path d="M568.80,335.68L573.80,335.68L571.30,330.93Z" fill="#d6d6d6" stroke="#999" stroke-width="0.5"/>
<text x="577.30" y="336.80" font-size="8.55">MH258</text>
<rect x="568.80" y="341.30" width="5.00" height="5.00" fill="#3d7fa6" stroke="#2d6a90" stroke-width="0.5"/>
<text x="577.30" y="347.60" font-size="8.55" fill="#4585ab">MBC022</text>
<circle cx="571.30" cy="354.20" r="2.50" fill="#3d7fa6" stroke="#2d6a90" stroke-width="0.5"/>
<text x="577.30" y="357.80" font-size="8.55" fill="#4585ab">ARO112</text>
<line x1="613.30" y1="268.50" x2="613.30" y2="306.20" stroke="#d8666a" stroke-width="0.8"/>
<line x1="613.30" y1="309.60" x2="613.30" y2="337.70" stroke="#000" stroke-width="0.8"/>
<line x1="613.30" y1="341.20" x2="613.30" y2="358.20" stroke="#4585ab" stroke-width="0.8"/>
<text x="617.60" y="284.40" font-size="8.55" fill="#d8666a" font-style="italic">E. coli</text>
<text x="617.60" y="295.00" font-size="8.55" fill="#d8666a">strains</text>
<text x="617.60" y="320.10" font-size="8.55" font-style="italic">K. pneumoniae</text>
<text x="617.60" y="330.30" font-size="8.55">strains</text>
<text x="617.60" y="347.40" font-size="8.55" fill="#4585ab">Non-<tspan font-style="italic">pneumoniae</tspan></text>
<text x="617.60" y="357.80" font-size="8.55" fill="#4585ab"><tspan font-style="italic">Klebsiella</tspan> strains</text>
<text x="179.30" y="473.90" font-size="9.2" text-anchor="middle">Plasmid acquisition</text>
<line x1="60.80" y1="515.80" x2="60.80" y2="619.92" stroke="#1a1a1a" stroke-width="1.0"/>
<line x1="58.40" y1="516.42" x2="60.80" y2="516.42" stroke="#1a1a1a" stroke-width="1.0"/>
<text x="56.00" y="519.62" font-size="9.0" text-anchor="end">1</text>
<line x1="58.40" y1="542.30" x2="60.80" y2="542.30" stroke="#1a1a1a" stroke-width="1.0"/>
<text x="56.00" y="545.50" font-size="9.0" text-anchor="end">0</text>
<line x1="58.40" y1="568.17" x2="60.80" y2="568.17" stroke="#1a1a1a" stroke-width="1.0"/>
<text x="56.00" y="571.37" font-size="9.0" text-anchor="end">&#8722;1</text>
<line x1="58.40" y1="594.05" x2="60.80" y2="594.05" stroke="#1a1a1a" stroke-width="1.0"/>
<text x="56.00" y="597.25" font-size="9.0" text-anchor="end">&#8722;2</text>
<line x1="58.40" y1="619.92" x2="60.80" y2="619.92" stroke="#1a1a1a" stroke-width="1.0"/>
<text x="56.00" y="623.12" font-size="9.0" text-anchor="end">&#8722;3</text>
<line x1="60.30" y1="619.92" x2="129.30" y2="619.92" stroke="#1a1a1a" stroke-width="1.0"/>
<line x1="73.90" y1="619.92" x2="73.90" y2="622.12" stroke="#1a1a1a" stroke-width="1.0"/>
<line x1="94.90" y1="619.92" x2="94.90" y2="622.12" stroke="#1a1a1a" stroke-width="1.0"/>
<line x1="115.60" y1="619.92" x2="115.60" y2="622.12" stroke="#1a1a1a" stroke-width="1.0"/>
<rect x="67.90" y="542.30" width="13.20" height="37.52" fill="#fff" stroke="#a9c7db" stroke-width="0.8"/>
<rect x="88.60" y="542.30" width="12.90" height="15.52" fill="#fff" stroke="#d8a75e" stroke-width="0.8"/>
<rect x="108.40" y="542.30" width="12.90" height="2.59" fill="#fff" stroke="#a6a6a6" stroke-width="0.8"/>
<line x1="60.80" y1="542.30" x2="129.30" y2="542.30" stroke="#1a1a1a" stroke-width="1.0"/>
<circle cx="70.50" cy="565.59" r="1.70" fill="#2f6f96" stroke="#1f5374" stroke-width="0.5"/>
<circle cx="76.50" cy="565.07" r="1.70" fill="#2f6f96" stroke="#1f5374" stroke-width="0.5"/>
<circle cx="79.50" cy="566.10" r="1.70" fill="#2f6f96" stroke="#1f5374" stroke-width="0.5"/>
<circle cx="73.50" cy="566.88" r="1.70" fill="#2f6f96" stroke="#1f5374" stroke-width="0.5"/>
<circle cx="69.50" cy="568.17" r="1.70" fill="#2f6f96" stroke="#1f5374" stroke-width="0.5"/>
<circle cx="77.50" cy="568.69" r="1.70" fill="#2f6f96" stroke="#1f5374" stroke-width="0.5"/>
<circle cx="74.50" cy="570.76" r="1.70" fill="#2f6f96" stroke="#1f5374" stroke-width="0.5"/>
<circle cx="71.50" cy="577.23" r="1.70" fill="#2f6f96" stroke="#1f5374" stroke-width="0.5"/>
<circle cx="78.50" cy="579.82" r="1.70" fill="#2f6f96" stroke="#1f5374" stroke-width="0.5"/>
<circle cx="73.50" cy="581.11" r="1.70" fill="#2f6f96" stroke="#1f5374" stroke-width="0.5"/>
<circle cx="76.50" cy="583.70" r="1.70" fill="#2f6f96" stroke="#1f5374" stroke-width="0.5"/>
<circle cx="72.50" cy="587.58" r="1.70" fill="#2f6f96" stroke="#1f5374" stroke-width="0.5"/>
<circle cx="75.50" cy="590.17" r="1.70" fill="#2f6f96" stroke="#1f5374" stroke-width="0.5"/>
<circle cx="74.50" cy="599.22" r="1.70" fill="#2f6f96" stroke="#1f5374" stroke-width="0.5"/>
<circle cx="73.50" cy="604.92" r="1.70" fill="#2f6f96" stroke="#1f5374" stroke-width="0.5"/>
<circle cx="93.05" cy="543.59" r="1.70" fill="#efc384" stroke="#c68d3e" stroke-width="0.5"/>
<circle cx="98.05" cy="544.89" r="1.70" fill="#efc384" stroke="#c68d3e" stroke-width="0.5"/>
<circle cx="91.05" cy="550.06" r="1.70" fill="#efc384" stroke="#c68d3e" stroke-width="0.5"/>
<circle cx="97.05" cy="552.65" r="1.70" fill="#efc384" stroke="#c68d3e" stroke-width="0.5"/>
<circle cx="94.05" cy="555.24" r="1.70" fill="#efc384" stroke="#c68d3e" stroke-width="0.5"/>
<circle cx="99.05" cy="556.53" r="1.70" fill="#efc384" stroke="#c68d3e" stroke-width="0.5"/>
<circle cx="92.05" cy="559.12" r="1.70" fill="#efc384" stroke="#c68d3e" stroke-width="0.5"/>
<circle cx="96.05" cy="563.00" r="1.70" fill="#efc384" stroke="#c68d3e" stroke-width="0.5"/>
<circle cx="91.05" cy="574.64" r="1.70" fill="#efc384" stroke="#c68d3e" stroke-width="0.5"/>
<circle cx="97.05" cy="577.23" r="1.70" fill="#efc384" stroke="#c68d3e" stroke-width="0.5"/>
<circle cx="94.05" cy="583.70" r="1.70" fill="#efc384" stroke="#c68d3e" stroke-width="0.5"/>
<circle cx="98.05" cy="591.46" r="1.70" fill="#efc384" stroke="#c68d3e" stroke-width="0.5"/>
<circle cx="95.05" cy="596.64" r="1.70" fill="#efc384" stroke="#c68d3e" stroke-width="0.5"/>
<circle cx="110.85" cy="542.30" r="1.70" fill="#c6c6c6" stroke="#7c7c7c" stroke-width="0.5"/>
<circle cx="114.85" cy="542.82" r="1.70" fill="#c6c6c6" stroke="#7c7c7c" stroke-width="0.5"/>
<circle cx="118.85" cy="542.30" r="1.70" fill="#c6c6c6" stroke="#7c7c7c" stroke-width="0.5"/>
<circle cx="112.85" cy="544.37" r="1.70" fill="#c6c6c6" stroke="#7c7c7c" stroke-width="0.5"/>
<circle cx="116.85" cy="544.89" r="1.70" fill="#c6c6c6" stroke="#7c7c7c" stroke-width="0.5"/>
<circle cx="109.85" cy="545.40" r="1.70" fill="#c6c6c6" stroke="#7c7c7c" stroke-width="0.5"/>
<circle cx="119.85" cy="546.18" r="1.70" fill="#c6c6c6" stroke="#7c7c7c" stroke-width="0.5"/>
<circle cx="115.85" cy="543.59" r="1.70" fill="#c6c6c6" stroke="#7c7c7c" stroke-width="0.5"/>
<path d="M74.60,527.70V525.50H115.60V527.70" fill="none" stroke="#111" stroke-width="0.9"/>
<text x="95.40" y="525.30" font-size="9.4" text-anchor="middle">****</text>
<path d="M96.20,537.20V535.00H115.20V537.20" fill="none" stroke="#111" stroke-width="0.9"/>
<text x="106.00" y="534.80" font-size="9.4" text-anchor="middle">**</text>
<text x="104.80" y="494.00" font-size="9.2" text-anchor="middle" font-style="italic">Donor strain:</text>
<text x="104.30" y="503.90" font-size="9.2" text-anchor="middle">MG1655 RP4</text>
<text x="39.60" y="570.60" font-size="9.15" text-anchor="middle" transform="rotate(-90 39.60 570.60)">Population frequency (log<tspan font-size="6.2" dy="1.8">10</tspan><tspan dy="-1.8">)</tspan></text>
<text x="75.90" y="628.60" font-size="9.6" text-anchor="end" transform="rotate(-45 75.90 628.60)">ARO112</text>
<text x="96.90" y="628.60" font-size="9.6" text-anchor="end" transform="rotate(-45 96.90 628.60)">EcN</text>
<text x="117.60" y="628.60" font-size="9.6" text-anchor="end" transform="rotate(-45 117.60 628.60)">Kp1012</text>
<line x1="215.40" y1="515.80" x2="215.40" y2="619.92" stroke="#1a1a1a" stroke-width="1.0"/>
<line x1="213.00" y1="516.42" x2="215.40" y2="516.42" stroke="#1a1a1a" stroke-width="1.0"/>
<text x="210.60" y="519.62" font-size="9.0" text-anchor="end">1</text>
<line x1="213.00" y1="542.30" x2="215.40" y2="542.30" stroke="#1a1a1a" stroke-width="1.0"/>
<text x="210.60" y="545.50" font-size="9.0" text-anchor="end">0</text>
<line x1="213.00" y1="568.17" x2="215.40" y2="568.17" stroke="#1a1a1a" stroke-width="1.0"/>
<text x="210.60" y="571.37" font-size="9.0" text-anchor="end">&#8722;1</text>
<line x1="213.00" y1="594.05" x2="215.40" y2="594.05" stroke="#1a1a1a" stroke-width="1.0"/>
<text x="210.60" y="597.25" font-size="9.0" text-anchor="end">&#8722;2</text>
<line x1="213.00" y1="619.92" x2="215.40" y2="619.92" stroke="#1a1a1a" stroke-width="1.0"/>
<text x="210.60" y="623.12" font-size="9.0" text-anchor="end">&#8722;3</text>
<line x1="214.90" y1="619.92" x2="283.00" y2="619.92" stroke="#1a1a1a" stroke-width="1.0"/>
<line x1="228.20" y1="619.92" x2="228.20" y2="622.12" stroke="#1a1a1a" stroke-width="1.0"/>
<line x1="248.90" y1="619.92" x2="248.90" y2="622.12" stroke="#1a1a1a" stroke-width="1.0"/>
<line x1="269.30" y1="619.92" x2="269.30" y2="622.12" stroke="#1a1a1a" stroke-width="1.0"/>
<rect x="221.90" y="542.30" width="13.50" height="59.51" fill="#fff" stroke="#a9c7db" stroke-width="0.8"/>
<rect x="242.30" y="542.30" width="13.50" height="36.23" fill="#fff" stroke="#d8a75e" stroke-width="0.8"/>
<rect x="263.00" y="542.30" width="12.90" height="15.52" fill="#fff" stroke="#a6a6a6" stroke-width="0.8"/>
<line x1="215.40" y1="542.30" x2="283.00" y2="542.30" stroke="#1a1a1a" stroke-width="1.0"/>
<circle cx="229.65" cy="594.05" r="1.70" fill="#2f6f96" stroke="#1f5374" stroke-width="0.5"/>
<circle cx="226.65" cy="596.64" r="1.70" fill="#2f6f96" stroke="#1f5374" stroke-width="0.5"/>
<circle cx="231.65" cy="599.22" r="1.70" fill="#2f6f96" stroke="#1f5374" stroke-width="0.5"/>
<circle cx="224.65" cy="600.52" r="1.70" fill="#2f6f96" stroke="#1f5374" stroke-width="0.5"/>
<circle cx="228.65" cy="601.81" r="1.70" fill="#2f6f96" stroke="#1f5374" stroke-width="0.5"/>
<circle cx="232.65" cy="602.33" r="1.70" fill="#2f6f96" stroke="#1f5374" stroke-width="0.5"/>
<circle cx="225.65" cy="603.11" r="1.70" fill="#2f6f96" stroke="#1f5374" stroke-width="0.5"/>
<circle cx="230.65" cy="604.40" r="1.70" fill="#2f6f96" stroke="#1f5374" stroke-width="0.5"/>
<circle cx="227.65" cy="605.69" r="1.70" fill="#2f6f96" stroke="#1f5374" stroke-width="0.5"/>
<circle cx="229.65" cy="606.99" r="1.70" fill="#2f6f96" stroke="#1f5374" stroke-width="0.5"/>
<circle cx="247.05" cy="575.94" r="1.70" fill="#efc384" stroke="#c68d3e" stroke-width="0.5"/>
<circle cx="251.05" cy="576.71" r="1.70" fill="#efc384" stroke="#c68d3e" stroke-width="0.5"/>
<circle cx="245.05" cy="578.01" r="1.70" fill="#efc384" stroke="#c68d3e" stroke-width="0.5"/>
<circle cx="253.05" cy="578.52" r="1.70" fill="#efc384" stroke="#c68d3e" stroke-width="0.5"/>
<circle cx="249.05" cy="579.82" r="1.70" fill="#efc384" stroke="#c68d3e" stroke-width="0.5"/>
<circle cx="246.05" cy="581.11" r="1.70" fill="#efc384" stroke="#c68d3e" stroke-width="0.5"/>
<circle cx="252.05" cy="581.63" r="1.70" fill="#efc384" stroke="#c68d3e" stroke-width="0.5"/>
<circle cx="248.05" cy="583.70" r="1.70" fill="#efc384" stroke="#c68d3e" stroke-width="0.5"/>
<circle cx="250.05" cy="584.99" r="1.70" fill="#efc384" stroke="#c68d3e" stroke-width="0.5"/>
<circle cx="266.45" cy="553.94" r="1.70" fill="#c6c6c6" stroke="#7c7c7c" stroke-width="0.5"/>
<circle cx="270.45" cy="554.72" r="1.70" fill="#c6c6c6" stroke="#7c7c7c" stroke-width="0.5"/>
<circle cx="273.45" cy="555.75" r="1.70" fill="#c6c6c6" stroke="#7c7c7c" stroke-width="0.5"/>
<circle cx="268.45" cy="556.53" r="1.70" fill="#c6c6c6" stroke="#7c7c7c" stroke-width="0.5"/>
<circle cx="265.45" cy="557.82" r="1.70" fill="#c6c6c6" stroke="#7c7c7c" stroke-width="0.5"/>
<circle cx="271.45" cy="558.34" r="1.70" fill="#c6c6c6" stroke="#7c7c7c" stroke-width="0.5"/>
<circle cx="269.45" cy="559.89" r="1.70" fill="#c6c6c6" stroke="#7c7c7c" stroke-width="0.5"/>
<circle cx="274.45" cy="560.41" r="1.70" fill="#c6c6c6" stroke="#7c7c7c" stroke-width="0.5"/>
<path d="M228.20,532.60V530.40H269.30V532.60" fill="none" stroke="#111" stroke-width="0.9"/>
<text x="249.05" y="530.20" font-size="9.4" text-anchor="middle">****</text>
<path d="M228.20,540.80V538.60H248.90V540.80" fill="none" stroke="#111" stroke-width="0.9"/>
<text x="238.85" y="538.40" font-size="9.4" text-anchor="middle">*</text>
<path d="M248.90,540.80V538.60H269.30V540.80" fill="none" stroke="#111" stroke-width="0.9"/>
<text x="259.40" y="538.40" font-size="9.4" text-anchor="middle">*</text>
<text x="250.10" y="494.00" font-size="9.2" text-anchor="middle" font-style="italic">Donor strain</text>
<text x="251.00" y="503.90" font-size="9.2" text-anchor="middle">Kgri RP4</text>
<text x="197.40" y="570.60" font-size="9.15" text-anchor="middle" transform="rotate(-90 197.40 570.60)">Population frequency (log<tspan font-size="6.2" dy="1.8">10</tspan><tspan dy="-1.8">)</tspan></text>
<text x="230.20" y="628.60" font-size="9.6" text-anchor="end" transform="rotate(-45 230.20 628.60)">ARO112</text>
<text x="250.90" y="628.60" font-size="9.6" text-anchor="end" transform="rotate(-45 250.90 628.60)">EcN</text>
<text x="271.30" y="628.60" font-size="9.6" text-anchor="end" transform="rotate(-45 271.30 628.60)">Kp1012</text>
<text x="397.40" y="494.00" font-size="9.2" text-anchor="middle">Conjugative plasmid retention</text>
<line x1="364.50" y1="515.00" x2="364.50" y2="617.60" stroke="#1a1a1a" stroke-width="1.0"/>
<line x1="362.10" y1="515.30" x2="364.50" y2="515.30" stroke="#1a1a1a" stroke-width="1.0"/>
<text x="359.70" y="518.50" font-size="9.0" text-anchor="end">1</text>
<line x1="362.10" y1="549.40" x2="364.50" y2="549.40" stroke="#1a1a1a" stroke-width="1.0"/>
<text x="359.70" y="552.60" font-size="9.0" text-anchor="end">0</text>
<line x1="362.10" y1="583.50" x2="364.50" y2="583.50" stroke="#1a1a1a" stroke-width="1.0"/>
<text x="359.70" y="586.70" font-size="9.0" text-anchor="end">&#8722;1</text>
<line x1="362.10" y1="617.60" x2="364.50" y2="617.60" stroke="#1a1a1a" stroke-width="1.0"/>
<text x="359.70" y="620.80" font-size="9.0" text-anchor="end">&#8722;2</text>
<line x1="364.00" y1="617.60" x2="450.70" y2="617.60" stroke="#1a1a1a" stroke-width="1.0"/>
<line x1="386.80" y1="617.60" x2="386.80" y2="619.80" stroke="#1a1a1a" stroke-width="1.0"/>
<line x1="432.40" y1="617.60" x2="432.40" y2="619.80" stroke="#1a1a1a" stroke-width="1.0"/>
<rect x="368.90" y="549.40" width="7.60" height="29.67" fill="#fff" stroke="#a9c7db" stroke-width="0.8"/>
<rect x="381.10" y="549.40" width="7.70" height="13.64" fill="#fff" stroke="#d8a75e" stroke-width="0.8"/>
<rect x="393.60" y="549.40" width="7.60" height="3.41" fill="#fff" stroke="#a6a6a6" stroke-width="0.8"/>
<rect x="414.60" y="549.40" width="7.60" height="13.64" fill="#fff" stroke="#a9c7db" stroke-width="0.8"/>
<rect x="426.40" y="549.40" width="7.40" height="6.82" fill="#fff" stroke="#d8a75e" stroke-width="0.8"/>
<rect x="438.90" y="549.40" width="7.70" height="0.00" fill="#fff" stroke="#a6a6a6" stroke-width="0.8"/>
<line x1="364.50" y1="549.40" x2="450.70" y2="549.40" stroke="#1a1a1a" stroke-width="1.0"/>
<circle cx="369.70" cy="566.45" r="1.70" fill="#2f6f96" stroke="#1f5374" stroke-width="0.5"/>
<circle cx="372.70" cy="568.15" r="1.70" fill="#2f6f96" stroke="#1f5374" stroke-width="0.5"/>
<circle cx="375.70" cy="570.54" r="1.70" fill="#2f6f96" stroke="#1f5374" stroke-width="0.5"/>
<circle cx="370.70" cy="607.37" r="1.70" fill="#2f6f96" stroke="#1f5374" stroke-width="0.5"/>
<circle cx="374.70" cy="608.05" r="1.70" fill="#2f6f96" stroke="#1f5374" stroke-width="0.5"/>
<circle cx="372.70" cy="612.83" r="1.70" fill="#2f6f96" stroke="#1f5374" stroke-width="0.5"/>
<circle cx="384.95" cy="552.81" r="1.70" fill="#efc384" stroke="#c68d3e" stroke-width="0.5"/>
<circle cx="382.95" cy="559.63" r="1.70" fill="#efc384" stroke="#c68d3e" stroke-width="0.5"/>
<circle cx="386.95" cy="563.04" r="1.70" fill="#efc384" stroke="#c68d3e" stroke-width="0.5"/>
<circle cx="381.95" cy="563.72" r="1.70" fill="#efc384" stroke="#c68d3e" stroke-width="0.5"/>
<circle cx="385.95" cy="568.15" r="1.70" fill="#efc384" stroke="#c68d3e" stroke-width="0.5"/>
<circle cx="384.95" cy="574.98" r="1.70" fill="#efc384" stroke="#c68d3e" stroke-width="0.5"/>
<circle cx="395.40" cy="549.40" r="1.70" fill="#c6c6c6" stroke="#7c7c7c" stroke-width="0.5"/>
<circle cx="399.40" cy="550.08" r="1.70" fill="#c6c6c6" stroke="#7c7c7c" stroke-width="0.5"/>
<circle cx="397.40" cy="552.81" r="1.70" fill="#c6c6c6" stroke="#7c7c7c" stroke-width="0.5"/>
<circle cx="398.40" cy="556.22" r="1.70" fill="#c6c6c6" stroke="#7c7c7c" stroke-width="0.5"/>
<circle cx="397.40" cy="569.86" r="1.70" fill="#c6c6c6" stroke="#7c7c7c" stroke-width="0.5"/>
<circle cx="397.40" cy="578.38" r="1.70" fill="#c6c6c6" stroke="#7c7c7c" stroke-width="0.5"/>
<circle cx="416.40" cy="561.33" r="1.70" fill="#2f6f96" stroke="#1f5374" stroke-width="0.5"/>
<circle cx="420.40" cy="562.36" r="1.70" fill="#2f6f96" stroke="#1f5374" stroke-width="0.5"/>
<circle cx="415.40" cy="564.75" r="1.70" fill="#2f6f96" stroke="#1f5374" stroke-width="0.5"/>
<circle cx="421.40" cy="566.45" r="1.70" fill="#2f6f96" stroke="#1f5374" stroke-width="0.5"/>
<circle cx="418.40" cy="568.15" r="1.70" fill="#2f6f96" stroke="#1f5374" stroke-width="0.5"/>
<circle cx="417.40" cy="569.86" r="1.70" fill="#2f6f96" stroke="#1f5374" stroke-width="0.5"/>
<circle cx="428.10" cy="552.81" r="1.70" fill="#efc384" stroke="#c68d3e" stroke-width="0.5"/>
<circle cx="432.10" cy="553.49" r="1.70" fill="#efc384" stroke="#c68d3e" stroke-width="0.5"/>
<circle cx="427.10" cy="556.22" r="1.70" fill="#efc384" stroke="#c68d3e" stroke-width="0.5"/>
<circle cx="433.10" cy="556.90" r="1.70" fill="#efc384" stroke="#c68d3e" stroke-width="0.5"/>
<circle cx="430.10" cy="558.95" r="1.70" fill="#efc384" stroke="#c68d3e" stroke-width="0.5"/>
<circle cx="443.75" cy="540.19" r="1.70" fill="#c6c6c6" stroke="#7c7c7c" stroke-width="0.5"/>
<circle cx="439.75" cy="549.40" r="1.70" fill="#c6c6c6" stroke="#7c7c7c" stroke-width="0.5"/>
<circle cx="445.75" cy="550.42" r="1.70" fill="#c6c6c6" stroke="#7c7c7c" stroke-width="0.5"/>
<circle cx="441.75" cy="551.79" r="1.70" fill="#c6c6c6" stroke="#7c7c7c" stroke-width="0.5"/>
<circle cx="443.75" cy="552.81" r="1.70" fill="#c6c6c6" stroke="#7c7c7c" stroke-width="0.5"/>
<path d="M374.60,539.40V537.20H396.80V539.40" fill="none" stroke="#111" stroke-width="0.9"/>
<text x="386.00" y="537.00" font-size="9.4" text-anchor="middle">**</text>
<path d="M418.70,526.60V524.40H440.60V526.60" fill="none" stroke="#111" stroke-width="0.9"/>
<text x="429.95" y="524.20" font-size="9.4" text-anchor="middle">****</text>
<path d="M429.40,535.70V533.50H440.60V535.70" fill="none" stroke="#111" stroke-width="0.9"/>
<text x="435.30" y="533.30" font-size="9.4" text-anchor="middle">*</text>
<circle cx="417.90" cy="590.00" r="1.90" fill="#2f6f96" stroke="#1f5374" stroke-width="0.5"/>
<text x="424.20" y="592.80" font-size="7.8" fill="#3f6db2">ARO112</text>
<circle cx="417.90" cy="599.20" r="1.90" fill="#efc384" stroke="#c68d3e" stroke-width="0.5"/>
<text x="424.20" y="601.70" font-size="7.9" fill="#c98f3d">EcN</text>
<circle cx="417.90" cy="607.90" r="1.90" fill="#c6c6c6" stroke="#7c7c7c" stroke-width="0.5"/>
<text x="424.20" y="610.50" font-size="9.1">Kp1012</text>
<text x="345.40" y="567.60" font-size="9.3" text-anchor="middle" transform="rotate(-90 345.40 567.60)">Population frequency (log<tspan font-size="6.4" dy="1.8">10</tspan><tspan dy="-1.8">)</tspan></text>
<text x="386.80" y="627.90" font-size="9.0" text-anchor="middle">Rich</text>
<text x="386.80" y="637.60" font-size="9.0" text-anchor="middle">medium</text>
<text x="432.40" y="627.90" font-size="9.0" text-anchor="middle">Minimal</text>
<text x="432.40" y="637.60" font-size="9.0" text-anchor="middle">medium</text>
<text x="584.30" y="494.00" font-size="9.2" text-anchor="middle">Non-transferable plasmid retention</text>
<line x1="543.80" y1="514.90" x2="543.80" y2="617.75" stroke="#1a1a1a" stroke-width="1.0"/>
<line x1="541.40" y1="514.85" x2="543.80" y2="514.85" stroke="#1a1a1a" stroke-width="1.0"/>
<text x="539.00" y="518.04" font-size="9.0" text-anchor="end">1</text>
<line x1="541.40" y1="566.30" x2="543.80" y2="566.30" stroke="#1a1a1a" stroke-width="1.0"/>
<text x="539.00" y="569.50" font-size="9.0" text-anchor="end">0</text>
<line x1="541.40" y1="617.75" x2="543.80" y2="617.75" stroke="#1a1a1a" stroke-width="1.0"/>
<text x="539.00" y="620.95" font-size="9.0" text-anchor="end">&#8722;1</text>
<line x1="543.30" y1="617.75" x2="630.00" y2="617.75" stroke="#1a1a1a" stroke-width="1.0"/>
<line x1="565.10" y1="617.75" x2="565.10" y2="619.95" stroke="#1a1a1a" stroke-width="1.0"/>
<line x1="611.70" y1="617.75" x2="611.70" y2="619.95" stroke="#1a1a1a" stroke-width="1.0"/>
<rect x="548.20" y="566.30" width="7.90" height="40.13" fill="#fff" stroke="#a9c7db" stroke-width="0.8"/>
<rect x="560.80" y="566.30" width="7.80" height="10.29" fill="#fff" stroke="#d8a75e" stroke-width="0.8"/>
<rect x="573.10" y="566.30" width="7.50" height="1.54" fill="#fff" stroke="#a6a6a6" stroke-width="0.8"/>
<rect x="593.80" y="566.30" width="7.80" height="15.43" fill="#fff" stroke="#a9c7db" stroke-width="0.8"/>
<rect x="606.40" y="563.73" width="7.60" height="2.57" fill="#fff" stroke="#d8a75e" stroke-width="0.8"/>
<rect x="618.80" y="566.30" width="7.60" height="2.57" fill="#fff" stroke="#a6a6a6" stroke-width="0.8"/>
<line x1="543.80" y1="566.30" x2="630.00" y2="566.30" stroke="#1a1a1a" stroke-width="1.0"/>
<circle cx="552.15" cy="580.19" r="1.70" fill="#2f6f96" stroke="#1f5374" stroke-width="0.5"/>
<circle cx="549.15" cy="604.89" r="1.70" fill="#2f6f96" stroke="#1f5374" stroke-width="0.5"/>
<circle cx="555.15" cy="605.92" r="1.70" fill="#2f6f96" stroke="#1f5374" stroke-width="0.5"/>
<circle cx="552.15" cy="607.46" r="1.70" fill="#2f6f96" stroke="#1f5374" stroke-width="0.5"/>
<circle cx="551.15" cy="607.46" r="1.70" fill="#2f6f96" stroke="#1f5374" stroke-width="0.5"/>
<circle cx="554.15" cy="609.00" r="1.70" fill="#2f6f96" stroke="#1f5374" stroke-width="0.5"/>
<circle cx="550.15" cy="610.55" r="1.70" fill="#2f6f96" stroke="#1f5374" stroke-width="0.5"/>
<circle cx="564.70" cy="566.30" r="1.70" fill="#efc384" stroke="#c68d3e" stroke-width="0.5"/>
<circle cx="561.70" cy="576.59" r="1.70" fill="#efc384" stroke="#c68d3e" stroke-width="0.5"/>
<circle cx="566.70" cy="577.62" r="1.70" fill="#efc384" stroke="#c68d3e" stroke-width="0.5"/>
<circle cx="563.70" cy="579.16" r="1.70" fill="#efc384" stroke="#c68d3e" stroke-width="0.5"/>
<circle cx="567.70" cy="581.73" r="1.70" fill="#efc384" stroke="#c68d3e" stroke-width="0.5"/>
<circle cx="564.70" cy="587.91" r="1.70" fill="#efc384" stroke="#c68d3e" stroke-width="0.5"/>
<circle cx="576.85" cy="552.41" r="1.70" fill="#c6c6c6" stroke="#7c7c7c" stroke-width="0.5"/>
<circle cx="573.85" cy="568.36" r="1.70" fill="#c6c6c6" stroke="#7c7c7c" stroke-width="0.5"/>
<circle cx="576.85" cy="568.87" r="1.70" fill="#c6c6c6" stroke="#7c7c7c" stroke-width="0.5"/>
<circle cx="579.85" cy="569.39" r="1.70" fill="#c6c6c6" stroke="#7c7c7c" stroke-width="0.5"/>
<circle cx="577.85" cy="571.44" r="1.70" fill="#c6c6c6" stroke="#7c7c7c" stroke-width="0.5"/>
<circle cx="595.70" cy="575.05" r="1.70" fill="#2f6f96" stroke="#1f5374" stroke-width="0.5"/>
<circle cx="599.70" cy="575.05" r="1.70" fill="#2f6f96" stroke="#1f5374" stroke-width="0.5"/>
<circle cx="594.70" cy="581.73" r="1.70" fill="#2f6f96" stroke="#1f5374" stroke-width="0.5"/>
<circle cx="594.70" cy="591.00" r="1.70" fill="#2f6f96" stroke="#1f5374" stroke-width="0.5"/>
<circle cx="597.70" cy="592.02" r="1.70" fill="#2f6f96" stroke="#1f5374" stroke-width="0.5"/>
<circle cx="600.70" cy="593.05" r="1.70" fill="#2f6f96" stroke="#1f5374" stroke-width="0.5"/>
<circle cx="611.20" cy="553.44" r="1.70" fill="#efc384" stroke="#c68d3e" stroke-width="0.5"/>
<circle cx="609.20" cy="554.98" r="1.70" fill="#efc384" stroke="#c68d3e" stroke-width="0.5"/>
<circle cx="607.20" cy="562.18" r="1.70" fill="#efc384" stroke="#c68d3e" stroke-width="0.5"/>
<circle cx="610.20" cy="563.73" r="1.70" fill="#efc384" stroke="#c68d3e" stroke-width="0.5"/>
<circle cx="613.20" cy="563.73" r="1.70" fill="#efc384" stroke="#c68d3e" stroke-width="0.5"/>
<circle cx="608.20" cy="564.24" r="1.70" fill="#efc384" stroke="#c68d3e" stroke-width="0.5"/>
<circle cx="622.60" cy="562.18" r="1.70" fill="#c6c6c6" stroke="#7c7c7c" stroke-width="0.5"/>
<circle cx="619.60" cy="568.87" r="1.70" fill="#c6c6c6" stroke="#7c7c7c" stroke-width="0.5"/>
<circle cx="625.60" cy="571.44" r="1.70" fill="#c6c6c6" stroke="#7c7c7c" stroke-width="0.5"/>
<circle cx="622.60" cy="574.02" r="1.70" fill="#c6c6c6" stroke="#7c7c7c" stroke-width="0.5"/>
<circle cx="620.60" cy="576.59" r="1.70" fill="#c6c6c6" stroke="#7c7c7c" stroke-width="0.5"/>
<path d="M552.50,528.50V524.30H577.40V528.50" fill="none" stroke="#111" stroke-width="0.9"/>
<text x="565.25" y="524.10" font-size="9.4" text-anchor="middle">****</text>
<path d="M552.50,542.30V539.30H564.60V542.30" fill="none" stroke="#111" stroke-width="0.9"/>
<text x="558.85" y="540.50" font-size="9.4" text-anchor="middle">*</text>
<path d="M566.30,542.30V539.30H577.40V542.30" fill="none" stroke="#111" stroke-width="0.9"/>
<text x="572.15" y="540.50" font-size="9.4" text-anchor="middle">**</text>
<path d="M597.10,528.50V524.30H623.00V528.50" fill="none" stroke="#111" stroke-width="0.9"/>
<text x="610.35" y="524.10" font-size="9.4" text-anchor="middle">****</text>
<path d="M597.10,545.70V542.70H609.60V545.70" fill="none" stroke="#111" stroke-width="0.9"/>
<text x="603.65" y="543.90" font-size="9.4" text-anchor="middle">**</text>
<path d="M611.30,545.70V542.70H623.00V545.70" fill="none" stroke="#111" stroke-width="0.9"/>
<text x="617.45" y="543.90" font-size="9.4" text-anchor="middle">**</text>
<circle cx="609.20" cy="591.80" r="1.90" fill="#2f6f96" stroke="#1f5374" stroke-width="0.5"/>
<text x="616.20" y="594.70" font-size="9.0" fill="#3f6db2">ARO112</text>
<circle cx="609.20" cy="600.60" r="1.90" fill="#efc384" stroke="#c68d3e" stroke-width="0.5"/>
<text x="616.20" y="603.50" font-size="8.9" fill="#c98f3d">EcN</text>
<circle cx="609.20" cy="609.80" r="1.90" fill="#c6c6c6" stroke="#7c7c7c" stroke-width="0.5"/>
<text x="616.20" y="612.20" font-size="9.1">Kp1012</text>
<text x="528.30" y="567.60" font-size="9.3" text-anchor="middle" transform="rotate(-90 528.30 567.60)">Population frequency (log<tspan font-size="6.4" dy="1.8">10</tspan><tspan dy="-1.8">)</tspan></text>
<text x="565.10" y="628.40" font-size="9.0" text-anchor="middle">Rich</text>
<text x="565.10" y="637.50" font-size="9.0" text-anchor="middle">medium</text>
<text x="611.70" y="628.40" font-size="9.0" text-anchor="middle">Minimal</text>
<text x="611.70" y="637.50" font-size="9.0" text-anchor="middle">medium</text>
<circle cx="23.00" cy="24.45" r="8.20" fill="#efeee9" stroke="#2a2a2a" stroke-width="0.9"/>
<text x="0.00" y="0.00" font-size="8.6" text-anchor="middle" fill="#1a1a1a" transform="translate(23.00 27.55) scale(0.93 1)">1</text>
<circle cx="118.00" cy="24.40" r="8.20" fill="#efeee9" stroke="#2a2a2a" stroke-width="0.9"/>
<text x="0.00" y="0.00" font-size="8.6" text-anchor="middle" fill="#1a1a1a" transform="translate(118.00 27.50) scale(0.93 1)">2</text>
<circle cx="228.40" cy="24.40" r="8.00" fill="#efeee9" stroke="#2a2a2a" stroke-width="0.9"/>
<text x="0.00" y="0.00" font-size="8.6" text-anchor="middle" fill="#1a1a1a" transform="translate(228.40 27.50) scale(0.93 1)">3</text>
<text x="0.00" y="0.00" font-size="8.6" fill="#262626" transform="translate(35.90 23.60) scale(0.93 1)">Culture bacterial</text>
<text x="0.00" y="0.00" font-size="8.6" fill="#262626" transform="translate(35.90 32.40) scale(0.93 1)">isolates</text>
<text x="0.00" y="0.00" font-size="8.6" fill="#262626" transform="translate(133.10 23.40) scale(0.93 1)">Separate cells</text>
<text x="0.00" y="0.00" font-size="8.6" fill="#262626" transform="translate(133.10 32.20) scale(0.93 1)">from media</text>
<text x="0.00" y="0.00" font-size="8.6" fill="#262626" transform="translate(241.60 27.00) scale(0.93 1)">Phenotypic assays</text>
<path d="M22.10,57.60L22.10,67.94L17.60,86.00Q17.10,88.00 19.10,88.00L32.10,88.00Q34.10,88.00 33.60,86.00L29.10,67.94L29.10,57.60Z" fill="#e9eeed" stroke="#b9bdbc" stroke-width="0.6"/>
<path d="M20.14,75.80L17.60,86.00Q17.10,88.00 19.10,88.00L32.10,88.00Q34.10,88.00 33.60,86.00L31.06,75.80Z" fill="#edd0a2" stroke="#c9b48e" stroke-width="0.5"/>
<rect x="21.50" y="56.80" width="8.20" height="1.60" fill="#e9eded" stroke="#c3c6c6" stroke-width="0.4"/>
<path d="M30.10,63.20L30.10,73.50L25.60,91.50Q25.10,93.50 27.10,93.50L40.10,93.50Q42.10,93.50 41.60,91.50L37.10,73.50L37.10,63.20Z" fill="#e9eeed" stroke="#b9bdbc" stroke-width="0.6"/>
<path d="M27.98,82.00L25.60,91.50Q25.10,93.50 27.10,93.50L40.10,93.50Q42.10,93.50 41.60,91.50L39.22,82.00Z" fill="#edd0a2" stroke="#c9b48e" stroke-width="0.5"/>
<rect x="29.50" y="62.40" width="8.20" height="1.60" fill="#e9eded" stroke="#c3c6c6" stroke-width="0.4"/>
<path d="M57.10,57.60L57.10,67.94L52.60,86.00Q52.10,88.00 54.10,88.00L67.10,88.00Q69.10,88.00 68.60,86.00L64.10,67.94L64.10,57.60Z" fill="#e9eeed" stroke="#b9bdbc" stroke-width="0.6"/>
<path d="M55.14,75.80L52.60,86.00Q52.10,88.00 54.10,88.00L67.10,88.00Q69.10,88.00 68.60,86.00L66.06,75.80Z" fill="#f6f3c6" stroke="#d3cf9e" stroke-width="0.5"/>
<rect x="56.50" y="56.80" width="8.20" height="1.60" fill="#e9eded" stroke="#c3c6c6" stroke-width="0.4"/>
<path d="M65.20,63.20L65.20,73.50L60.70,91.50Q60.20,93.50 62.20,93.50L75.20,93.50Q77.20,93.50 76.70,91.50L72.20,73.50L72.20,63.20Z" fill="#e9eeed" stroke="#b9bdbc" stroke-width="0.6"/>
<path d="M63.08,82.00L60.70,91.50Q60.20,93.50 62.20,93.50L75.20,93.50Q77.20,93.50 76.70,91.50L74.32,82.00Z" fill="#f6f3c6" stroke="#d3cf9e" stroke-width="0.5"/>
<rect x="64.60" y="62.40" width="8.20" height="1.60" fill="#e9eded" stroke="#c3c6c6" stroke-width="0.4"/>
<text x="0.00" y="0.00" font-size="8.6" text-anchor="middle" fill="#262626" transform="translate(30.20 107.20) scale(0.93 1)">Rich</text>
<text x="0.00" y="0.00" font-size="8.6" text-anchor="middle" fill="#262626" transform="translate(30.20 115.80) scale(0.93 1)">medium</text>
<text x="0.00" y="0.00" font-size="8.6" text-anchor="middle" fill="#262626" transform="translate(67.20 107.20) scale(0.93 1)">Minimal</text>
<text x="0.00" y="0.00" font-size="8.6" text-anchor="middle" fill="#262626" transform="translate(67.20 115.80) scale(0.93 1)">medium</text>
<line x1="89.30" y1="81.50" x2="103.20" y2="81.50" stroke="#1a1a1a" stroke-width="0.8"/>
<path d="M107.40,81.50L103.20,83.60L103.20,79.40Z" fill="#1a1a1a" stroke="none" stroke-width="1"/>
<path d="M113.90,67.00L122.10,67.00L121.30,80.80L118.80,87.80L117.20,87.80L114.70,80.80Z" fill="#f4f3ee" stroke="#b7b9b6" stroke-width="0.5"/>
<rect x="113.30" y="65.00" width="9.40" height="2.20" fill="#dfe3e3" stroke="#aeb2b2" stroke-width="0.5"/>
<path d="M119.40,70.40L127.60,70.40L126.80,84.70L124.30,91.70L122.70,91.70L120.20,84.70Z" fill="#f4f3ee" stroke="#b7b9b6" stroke-width="0.5"/>
<path d="M119.74,76.50L127.26,76.50L126.80,84.70L124.30,91.70L122.70,91.70L120.20,84.70Z" fill="#f2e3cc" stroke="#cfc0aa" stroke-width="0.4"/>
<rect x="118.80" y="68.40" width="9.40" height="2.20" fill="#dfe3e3" stroke="#aeb2b2" stroke-width="0.5"/>
<path d="M128.5,81.5 Q140,80.5 146.2,72.2" fill="none" stroke="#1a1a1a" stroke-width="0.8"/>
<path d="M149.6,68.6 L143.6,71.0 L147.8,74.8 Z" fill="#1a1a1a" stroke="none" stroke-width="1"/>
<path d="M128.5,88.5 Q140,89.5 146.2,97.8" fill="none" stroke="#1a1a1a" stroke-width="0.8"/>
<path d="M149.4,102.6 L144.0,99.2 L148.2,95.6 Z" fill="#1a1a1a" stroke="none" stroke-width="1"/>
<text x="0.00" y="0.00" font-size="8.6" fill="#262626" transform="translate(143.30 56.60) scale(0.93 1)">Supernatant</text>
<line x1="192.40" y1="53.30" x2="206.40" y2="53.30" stroke="#1a1a1a" stroke-width="0.8"/>
<path d="M210.60,53.30L206.40,55.40L206.40,51.20Z" fill="#1a1a1a" stroke="none" stroke-width="1"/>
<text x="0.00" y="0.00" font-size="8.6" fill="#262626" transform="translate(217.90 56.60) scale(0.93 1)">Siderophores</text>
<path d="M284.6,44.6 Q283.5,41.6 278.0,41.8 Q270.2,42.6 269.9,52.6 Q270.3,62.4 277.5,63.0 Q283.8,63.2 285.0,60.0 L283.4,57.2 A4.9,4.9 0 0 1 283.2,47.8 Z" fill="#4f9c92" stroke="#478f86" stroke-width="0.4"/>
<circle cx="280.80" cy="52.50" r="4.30" fill="#fbf8dc" stroke="#d4b44a" stroke-width="0.7"/>
<text x="280.90" y="54.20" font-size="4.6" text-anchor="middle" fill="#333" font-weight="bold">Fe</text>
<text x="0.00" y="0.00" font-size="8.6" fill="#262626" transform="translate(147.80 118.90) scale(0.93 1)">Cells</text>
<line x1="192.00" y1="115.10" x2="206.60" y2="115.10" stroke="#1a1a1a" stroke-width="0.8"/>
<path d="M210.80,115.10L206.60,117.20L206.60,113.00Z" fill="#1a1a1a" stroke="none" stroke-width="1"/>
<path d="M219.5,80.0 H214.2 V155.4 H219.5" fill="none" stroke="#8d8d8d" stroke-width="0.8"/>
<text x="0.00" y="0.00" font-size="8.6" fill="#262626" transform="translate(228.40 89.40) scale(0.93 1)">Biofilm</text>
<path d="M260.6,89.6 Q260.2,86.2 263.2,85.4 Q263.6,81.6 267.2,81.6 Q270.5,80.6 272.6,82.2 Q273.0,78.6 277.0,78.2 Q281.2,77.0 283.6,79.8 Q286.4,81.6 286.2,85.0 Q288.2,87.6 286.8,90.4 Q285.4,93.4 282.0,92.8 Q278.5,94.0 275.5,92.6 Q271.5,93.8 268.0,92.6 Q264.5,93.6 262.2,92.4 Q260.4,91.6 260.6,89.6 Z" fill="#eef6f8" stroke="#bcd9ea" stroke-width="0.8"/>
<ellipse cx="263.9" cy="89.7" rx="2.6" ry="2.4" fill="#e6c23a" stroke="#d1a216" stroke-width="0.3" transform="rotate(0 263.9 89.7)"/>
<ellipse cx="268.4" cy="87.6" rx="2.6" ry="4.3" fill="#e8b61c" stroke="#d1a216" stroke-width="0.3" transform="rotate(-10 268.4 87.6)"/>
<ellipse cx="271.6" cy="86.2" rx="2.0" ry="3.0" fill="#ebcf58" stroke="#d1a216" stroke-width="0.3" transform="rotate(0 271.6 86.2)"/>
<ellipse cx="274.4" cy="87.6" rx="2.8" ry="4.4" fill="#e8b61c" stroke="#d1a216" stroke-width="0.3" transform="rotate(5 274.4 87.6)"/>
<ellipse cx="278.6" cy="82.2" rx="4.0" ry="2.9" fill="#e6b419" stroke="#d1a216" stroke-width="0.3" transform="rotate(-10 278.6 82.2)"/>
<ellipse cx="277.8" cy="89.4" rx="3.0" ry="3.0" fill="#e8b61c" stroke="#d1a216" stroke-width="0.3" transform="rotate(0 277.8 89.4)"/>
<ellipse cx="282.0" cy="85.6" rx="3.0" ry="3.6" fill="#e7b51a" stroke="#d1a216" stroke-width="0.3" transform="rotate(0 282.0 85.6)"/>
<ellipse cx="277.6" cy="85.8" rx="2.6" ry="2.6" fill="#e7b51a" stroke="#d1a216" stroke-width="0.3" transform="rotate(0 277.6 85.8)"/>
<ellipse cx="284.2" cy="89.4" rx="2.5" ry="2.8" fill="#e8b61c" stroke="#d1a216" stroke-width="0.3" transform="rotate(0 284.2 89.4)"/>
<text x="0.00" y="0.00" font-size="8.6" fill="#262626" transform="translate(226.80 114.30) scale(0.93 1)">Urease</text>
<path d="M268.20,99.90V121.55A2.05,2.05 0 0 0 272.30,121.55V99.90Z" fill="#f1f3f3" stroke="#c5c8c8" stroke-width="0.5"/>
<path d="M268.50,103.50V121.55A1.75,1.75 0 0 0 272.00,121.55V103.50Z" fill="#f6f0b4" stroke="none" stroke-width="1"/>
<path d="M279.40,99.90V121.65A1.95,1.95 0 0 0 283.30,121.65V99.90Z" fill="#f1f3f3" stroke="#c5c8c8" stroke-width="0.5"/>
<path d="M279.70,103.50V121.65A1.65,1.65 0 0 0 283.00,121.65V103.50Z" fill="#e2535f" stroke="none" stroke-width="1"/>
<circle cx="261.60" cy="109.40" r="2.30" fill="#2a2a2a" stroke="none" stroke-width="1"/>
<line x1="260.40" y1="109.40" x2="262.80" y2="109.40" stroke="#fff" stroke-width="0.7"/>
<circle cx="288.30" cy="109.40" r="2.30" fill="#2a2a2a" stroke="none" stroke-width="1"/>
<line x1="287.10" y1="109.40" x2="289.50" y2="109.40" stroke="#fff" stroke-width="0.7"/>
<line x1="288.30" y1="108.20" x2="288.30" y2="110.60" stroke="#fff" stroke-width="0.7"/>
<text x="0.00" y="0.00" font-size="8.6" text-anchor="middle" fill="#262626" transform="translate(241.00 134.70) scale(0.93 1)">Human</text>
<text x="0.00" y="0.00" font-size="8.6" text-anchor="middle" fill="#262626" transform="translate(241.00 143.90) scale(0.93 1)">serum</text>
<text x="0.00" y="0.00" font-size="8.6" text-anchor="middle" fill="#262626" transform="translate(241.00 152.60) scale(0.93 1)">resistance</text>
<path d="M267.60,128.80V151.20A2.60,2.60 0 0 0 272.80,151.20V128.80Z" fill="#f1f3f3" stroke="#c5c8c8" stroke-width="0.5"/>
<path d="M267.90,139.50V151.20A2.30,2.30 0 0 0 272.50,151.20V139.50Z" fill="#f4c3a3" stroke="none" stroke-width="1"/>
<circle cx="270.20" cy="143.80" r="1.30" fill="#222" stroke="none" stroke-width="1"/>
<line x1="268.60" y1="145.60" x2="271.80" y2="147.60" stroke="#222" stroke-width="0.6"/>
<line x1="271.80" y1="145.60" x2="268.60" y2="147.60" stroke="#222" stroke-width="0.6"/>
<line x1="277.80" y1="143.20" x2="283.60" y2="143.20" stroke="#1a1a1a" stroke-width="0.7"/>
<path d="M286.20,143.20L283.60,144.60L283.60,141.80Z" fill="#1a1a1a" stroke="none" stroke-width="1"/>
<path d="M285.3,152.6 Q288,150 289.5,150.5 Q291,149.5 292.5,146.5" fill="none" stroke="#d6b54c" stroke-width="0.5"/>
<line x1="292.60" y1="145.40" x2="297.60" y2="138.20" stroke="#e5b425" stroke-width="3.6" stroke-linecap="round"/>
<circle cx="293.80" cy="136.20" r="1.60" fill="#f6eaa6" stroke="none" stroke-width="1"/>
<text x="0.00" y="0.00" font-size="8.6" text-anchor="middle" fill="#262626" transform="translate(330.50 85.80) scale(0.93 1)">Antibiotic</text>
<text x="0.00" y="0.00" font-size="8.6" text-anchor="middle" fill="#262626" transform="translate(330.50 94.80) scale(0.93 1)">resistance</text>
<g transform="translate(368.6,86.2) rotate(-23)"><path d="M0,-3.6 H6.2 A3.6,3.6 0 0 1 6.2,3.6 H0 Z" fill="#dfdfd8" stroke="#c8c8c0" stroke-width="0.4"/><path d="M0,-3.6 H-6.2 A3.6,3.6 0 0 0 -6.2,3.6 H0 Z" fill="#ec9a3c" stroke="#d08530" stroke-width="0.4"/></g>
<text x="0.00" y="0.00" font-size="8.6" text-anchor="middle" fill="#262626" transform="translate(330.50 117.50) scale(0.93 1)">Plasmid</text>
<text x="0.00" y="0.00" font-size="8.6" text-anchor="middle" fill="#262626" transform="translate(330.50 126.40) scale(0.93 1)">retention</text>
<line x1="369.80" y1="111.20" x2="380.60" y2="115.20" stroke="#9a9a9a" stroke-width="0.4"/>
<line x1="369.80" y1="125.00" x2="380.60" y2="123.80" stroke="#9a9a9a" stroke-width="0.4"/>
<circle cx="364.80" cy="118.10" r="8.60" fill="#fff" stroke="#6f6f6f" stroke-width="0.5"/>
<circle cx="364.80" cy="118.10" r="5.40" fill="none" stroke="#93d2c9" stroke-width="1.2"/>
<path d="M365.7,112.8 A5.4,5.4 0 0 1 370.0,119.5" fill="none" stroke="#2c2e6e" stroke-width="1.4"/>
<ellipse cx="381.8" cy="119.6" rx="1.6" ry="4.4" fill="#e6b3a1" transform="rotate(12 381.8 119.6)"/>
<path d="M380.8,124 Q380.2,128 378.5,132" fill="none" stroke="#e8b3a2" stroke-width="0.4"/>
<text x="0.00" y="0.00" font-size="8.6" fill="#262626" transform="translate(309.40 145.40) scale(0.93 1)">Conjugation</text>
<rect x="356.2" y="140.9" width="15.6" height="5.4" rx="2.7" fill="#f5f8fd" stroke="#b7cbe9" stroke-width="0.7"/>
<rect x="370.4" y="140.9" width="15.4" height="5.4" rx="2.7" fill="#f5f8fd" stroke="#b7cbe9" stroke-width="0.7"/>
<path d="M359,143.8 q1,-1 2,0 q1,1 2,0" fill="none" stroke="#8aa2d0" stroke-width="0.5"/>
<path d="M379,143.8 q1,-1 2,0 q1,1 2,0" fill="none" stroke="#8aa2d0" stroke-width="0.5"/>
<circle cx="368.20" cy="143.60" r="1.00" fill="none" stroke="#b07ac8" stroke-width="0.5"/>
<line x1="369.20" y1="143.60" x2="373.50" y2="143.60" stroke="#c69adb" stroke-width="0.5"/>
</svg></body></html>
